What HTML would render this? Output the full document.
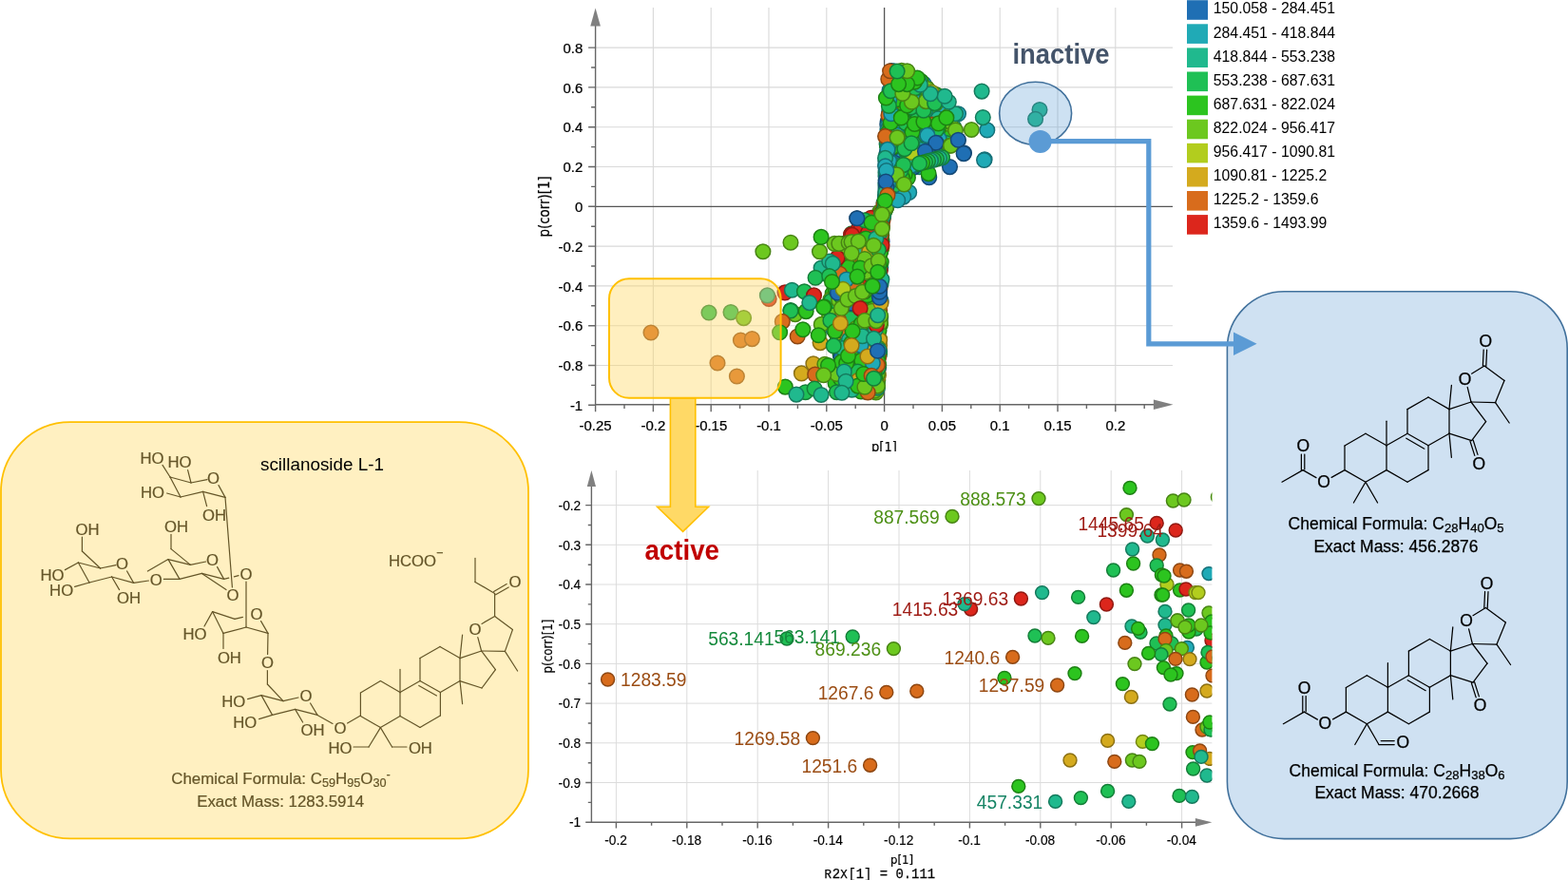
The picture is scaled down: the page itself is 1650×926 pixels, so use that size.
<!DOCTYPE html>
<html lang="en"><head><meta charset="utf-8"><title>S-plot: active and inactive compounds</title>
<style>
html,body{margin:0;padding:0;background:#fff}
body{width:1650px;height:926px;overflow:hidden}
svg{display:block}
text{font-family:"Liberation Sans",sans-serif}
.tk{font-size:15px;fill:#000;stroke:#000;stroke-width:.15px}
.tk2{font-size:15.5px;fill:#000;stroke:#000;stroke-width:.25px}
.ax{font-family:"DejaVu Sans","Liberation Sans",sans-serif;fill:#000}
.axc{font-family:"DejaVu Sans Condensed","DejaVu Sans","Liberation Sans",sans-serif;fill:#000;stroke:#000;stroke-width:.2px}
.lg{font-size:15.8px;fill:#000}
.gr{stroke:#d9d9d9;stroke-width:1.1;fill:none}
.gr2{stroke:#dcdcdc;stroke-width:1;fill:none}
.axl{stroke:#666;stroke-width:1.4;fill:none}
.zl{stroke:#555;stroke-width:1.3;fill:none}
.pl{font-size:20.6px}
circle{stroke-width:1.5}
.kb{fill:#1f6fb4;stroke:#144976}
.tb{fill:#164f81}
.kc{fill:#20aab6;stroke:#157078}
.tc{fill:#177a83}
.kt{fill:#20b98e;stroke:#157a5d}
.tt{fill:#178566}
.kg{fill:#1fc055;stroke:#147e38}
.tg{fill:#168a3d}
.kG{fill:#2cc41f;stroke:#1d8114}
.tG{fill:#1f8d16}
.ky{fill:#6cc81f;stroke:#478414}
.ty{fill:#4d9016}
.kl{fill:#b2cd1e;stroke:#758713}
.tl{fill:#809315}
.ko{fill:#d4aa1e;stroke:#8b7013}
.to{fill:#987a15}
.kO{fill:#d86c1c;stroke:#8e4712}
.tO{fill:#9b4d14}
.kr{fill:#dc261c;stroke:#911912}
.tr{fill:#9e1b14}
.cb line{stroke:#000;stroke-width:1.25;stroke-linecap:round}
.cb text{fill:#000;stroke:#000;stroke-width:.25px}
.cy line{stroke:#645528;stroke-width:1.2;stroke-linecap:round}
.cy text{fill:#645528;stroke:#645528;stroke-width:.2px}
</style></head><body>
<svg width="1650" height="926" viewBox="0 0 1650 926">
<rect width="1650" height="926" fill="#fff"/>
<g id="topplot"><path class="gr" d="M687.4 8V425.8M748.2 8V425.8M809.0 8V425.8M869.8 8V425.8M991.4 8V425.8M1052.2 8V425.8M1113.0 8V425.8M1173.8 8V425.8M626.6 384.5H1234M626.6 342.7H1234M626.6 300.9H1234M626.6 259.1H1234M626.6 175.5H1234M626.6 133.7H1234M626.6 91.9H1234M626.6 50.1H1234"/><path class="zl" d="M930.6 8V425.8M626.6 217.3H1234"/><path class="axl" d="M626.6 26V425.8H1214"/><path fill="#808080" d="M626.6 8.6l5.3 18.8h-10.6z"/><path fill="#808080" d="M1234.5 425.8l-20.6 -5.3v10.6z"/><path class="axl" d="M626.6 426.3h-7.5M626.6 405.4h-4.5M626.6 384.5h-7.5M626.6 363.6h-4.5M626.6 342.7h-7.5M626.6 321.8h-4.5M626.6 300.9h-7.5M626.6 280.0h-4.5M626.6 259.1h-7.5M626.6 238.2h-4.5M626.6 217.3h-7.5M626.6 196.4h-4.5M626.6 175.5h-7.5M626.6 154.6h-4.5M626.6 133.7h-7.5M626.6 112.8h-4.5M626.6 91.9h-7.5M626.6 71.0h-4.5M626.6 50.1h-7.5M626.6 425.8v7.5M657.0 425.8v4.2M687.4 425.8v7.5M717.8 425.8v4.2M748.2 425.8v7.5M778.6 425.8v4.2M809.0 425.8v7.5M839.4 425.8v4.2M869.8 425.8v7.5M900.2 425.8v4.2M930.6 425.8v7.5M961.0 425.8v4.2M991.4 425.8v7.5M1021.8 425.8v4.2M1052.2 425.8v7.5M1082.6 425.8v4.2M1113.0 425.8v7.5M1143.4 425.8v4.2M1173.8 425.8v7.5M1204.2 425.8v4.2"/><text class="tk2" transform="translate(613.2 55.7) scale(0.965 1)" text-anchor="end">0.8</text><text class="tk2" transform="translate(613.2 97.5) scale(0.965 1)" text-anchor="end">0.6</text><text class="tk2" transform="translate(613.2 139.3) scale(0.965 1)" text-anchor="end">0.4</text><text class="tk2" transform="translate(613.2 181.1) scale(0.965 1)" text-anchor="end">0.2</text><text class="tk2" transform="translate(613.2 222.9) scale(0.965 1)" text-anchor="end">0</text><text class="tk2" transform="translate(613.2 264.7) scale(0.965 1)" text-anchor="end">-0.2</text><text class="tk2" transform="translate(613.2 306.5) scale(0.965 1)" text-anchor="end">-0.4</text><text class="tk2" transform="translate(613.2 348.3) scale(0.965 1)" text-anchor="end">-0.6</text><text class="tk2" transform="translate(613.2 390.1) scale(0.965 1)" text-anchor="end">-0.8</text><text class="tk2" transform="translate(613.2 431.9) scale(0.965 1)" text-anchor="end">-1</text><text class="tk2" transform="translate(626.6 452.6) scale(0.965 1)" text-anchor="middle">-0.25</text><text class="tk2" transform="translate(687.4 452.6) scale(0.965 1)" text-anchor="middle">-0.2</text><text class="tk2" transform="translate(748.2 452.6) scale(0.965 1)" text-anchor="middle">-0.15</text><text class="tk2" transform="translate(809.0 452.6) scale(0.965 1)" text-anchor="middle">-0.1</text><text class="tk2" transform="translate(869.8 452.6) scale(0.965 1)" text-anchor="middle">-0.05</text><text class="tk2" transform="translate(930.6 452.6) scale(0.965 1)" text-anchor="middle">0</text><text class="tk2" transform="translate(991.4 452.6) scale(0.965 1)" text-anchor="middle">0.05</text><text class="tk2" transform="translate(1052.2 452.6) scale(0.965 1)" text-anchor="middle">0.1</text><text class="tk2" transform="translate(1113.0 452.6) scale(0.965 1)" text-anchor="middle">0.15</text><text class="tk2" transform="translate(1173.8 452.6) scale(0.965 1)" text-anchor="middle">0.2</text><text class="axc" font-size="15.5" transform="translate(578.3 217.4) rotate(-90) scale(0.96 1)" text-anchor="middle">p(corr)[1]</text><clipPath id="cp1"><rect x="560" y="0" width="700" height="474.9"/></clipPath><text class="axc" font-size="14.5" x="930.4" y="475.2" text-anchor="middle" clip-path="url(#cp1)">p[1]</text><circle class="kc" cx="933.4" cy="183.8" r="7.8"/><circle class="kc" cx="932.1" cy="198.0" r="7.8"/><circle class="kt" cx="931.4" cy="221.0" r="7.8"/><circle class="ky" cx="927.5" cy="260.8" r="7.8"/><circle class="kc" cx="940.9" cy="116.0" r="7.8"/><circle class="kg" cx="917.5" cy="269.6" r="7.8"/><circle class="kt" cx="970.1" cy="89.8" r="7.8"/><circle class="kc" cx="931.2" cy="216.1" r="7.8"/><circle class="kt" cx="960.4" cy="108.9" r="7.8"/><circle class="kc" cx="936.5" cy="200.2" r="7.8"/><circle class="kl" cx="918.1" cy="242.3" r="7.8"/><circle class="kg" cx="946.1" cy="180.5" r="7.8"/><circle class="kc" cx="933.6" cy="196.6" r="7.8"/><circle class="kG" cx="958.4" cy="156.7" r="7.8"/><circle class="kG" cx="923.2" cy="241.8" r="7.8"/><circle class="kc" cx="974.7" cy="171.6" r="7.8"/><circle class="kG" cx="926.1" cy="247.5" r="7.8"/><circle class="kb" cx="956.3" cy="125.5" r="7.8"/><circle class="ky" cx="923.8" cy="400.1" r="7.8"/><circle class="kG" cx="891.8" cy="268.3" r="7.8"/><circle class="kb" cx="935.9" cy="189.3" r="7.8"/><circle class="kc" cx="937.2" cy="97.3" r="7.8"/><circle class="kG" cx="963.5" cy="94.6" r="7.8"/><circle class="kG" cx="903.5" cy="269.9" r="7.8"/><circle class="ky" cx="941.9" cy="170.5" r="7.8"/><circle class="kg" cx="948.9" cy="191.6" r="7.8"/><circle class="kt" cx="936.3" cy="131.0" r="7.8"/><circle class="kg" cx="942.1" cy="117.8" r="7.8"/><circle class="kt" cx="910.8" cy="384.8" r="7.8"/><circle class="kO" cx="925.7" cy="226.3" r="7.8"/><circle class="kG" cx="952.4" cy="120.4" r="7.8"/><circle class="kg" cx="944.0" cy="168.4" r="7.8"/><circle class="kg" cx="915.7" cy="305.4" r="7.8"/><circle class="kt" cx="938.7" cy="125.2" r="7.8"/><circle class="kc" cx="952.1" cy="78.1" r="7.8"/><circle class="kt" cx="932.7" cy="163.1" r="7.8"/><circle class="kG" cx="899.9" cy="397.1" r="7.8"/><circle class="ky" cx="902.0" cy="396.1" r="7.8"/><circle class="ky" cx="975.1" cy="92.3" r="7.8"/><circle class="ky" cx="900.5" cy="396.7" r="7.8"/><circle class="kb" cx="933.3" cy="207.0" r="7.8"/><circle class="kc" cx="936.7" cy="95.1" r="7.8"/><circle class="kc" cx="932.2" cy="189.3" r="7.8"/><circle class="kt" cx="904.3" cy="395.7" r="7.8"/><circle class="kt" cx="905.6" cy="370.4" r="7.8"/><circle class="ky" cx="882.6" cy="289.1" r="7.8"/><circle class="kG" cx="932.5" cy="197.5" r="7.8"/><circle class="kt" cx="923.7" cy="232.0" r="7.8"/><circle class="ky" cx="977.5" cy="122.9" r="7.8"/><circle class="kc" cx="972.7" cy="163.8" r="7.8"/><circle class="kG" cx="925.1" cy="249.0" r="7.8"/><circle class="kb" cx="940.1" cy="196.6" r="7.8"/><circle class="ky" cx="919.0" cy="331.0" r="7.8"/><circle class="kg" cx="901.3" cy="366.7" r="7.8"/><circle class="kG" cx="895.7" cy="249.7" r="7.8"/><circle class="kl" cx="907.0" cy="335.7" r="7.8"/><circle class="ky" cx="913.4" cy="244.4" r="7.8"/><circle class="kO" cx="878.8" cy="349.1" r="7.8"/><circle class="kg" cx="941.1" cy="140.2" r="7.8"/><circle class="kG" cx="921.8" cy="324.8" r="7.8"/><circle class="kb" cx="912.6" cy="241.1" r="7.8"/><circle class="kg" cx="910.9" cy="341.8" r="7.8"/><circle class="kG" cx="876.2" cy="308.8" r="7.8"/><circle class="kG" cx="897.0" cy="348.1" r="7.8"/><circle class="kg" cx="915.8" cy="397.7" r="7.8"/><circle class="kg" cx="953.6" cy="108.6" r="7.8"/><circle class="kG" cx="966.1" cy="143.3" r="7.8"/><circle class="ky" cx="911.9" cy="358.9" r="7.8"/><circle class="kO" cx="941.6" cy="190.6" r="7.8"/><circle class="ko" cx="883.7" cy="297.9" r="7.8"/><circle class="kO" cx="922.7" cy="315.2" r="7.8"/><circle class="kg" cx="981.9" cy="134.5" r="7.8"/><circle class="ky" cx="987.9" cy="103.4" r="7.8"/><circle class="kc" cx="933.0" cy="208.2" r="7.8"/><circle class="kb" cx="936.6" cy="131.6" r="7.8"/><circle class="ko" cx="923.9" cy="347.4" r="7.8"/><circle class="kr" cx="913.6" cy="276.0" r="7.8"/><circle class="kc" cx="938.8" cy="192.8" r="7.8"/><circle class="ky" cx="953.8" cy="81.3" r="7.8"/><circle class="kr" cx="909.3" cy="294.2" r="7.8"/><circle class="kt" cx="1000.8" cy="121.2" r="7.8"/><circle class="kg" cx="922.1" cy="354.1" r="7.8"/><circle class="ky" cx="956.0" cy="146.1" r="7.8"/><circle class="kG" cx="922.3" cy="272.8" r="7.8"/><circle class="ky" cx="925.5" cy="356.8" r="7.8"/><circle class="kG" cx="936.8" cy="193.9" r="7.8"/><circle class="kO" cx="900.8" cy="249.2" r="7.8"/><circle class="kG" cx="917.2" cy="244.1" r="7.8"/><circle class="kl" cx="900.7" cy="247.1" r="7.8"/><circle class="kc" cx="934.0" cy="136.1" r="7.8"/><circle class="ky" cx="917.2" cy="234.5" r="7.8"/><circle class="kG" cx="962.5" cy="94.9" r="7.8"/><circle class="kt" cx="898.1" cy="262.3" r="7.8"/><circle class="kg" cx="925.0" cy="373.4" r="7.8"/><circle class="kG" cx="964.5" cy="167.9" r="7.8"/><circle class="kO" cx="929.6" cy="227.3" r="7.8"/><circle class="ky" cx="913.2" cy="383.3" r="7.8"/><circle class="kg" cx="903.8" cy="404.0" r="7.8"/><circle class="ky" cx="911.7" cy="308.8" r="7.8"/><circle class="kg" cx="909.6" cy="347.7" r="7.8"/><circle class="kr" cx="882.1" cy="311.0" r="7.8"/><circle class="kt" cx="955.1" cy="162.0" r="7.8"/><circle class="kt" cx="924.1" cy="358.8" r="7.8"/><circle class="kc" cx="932.6" cy="207.0" r="7.8"/><circle class="kc" cx="943.5" cy="146.1" r="7.8"/><circle class="ky" cx="923.0" cy="378.1" r="7.8"/><circle class="kg" cx="917.3" cy="292.1" r="7.8"/><circle class="kg" cx="884.2" cy="373.3" r="7.8"/><circle class="kO" cx="925.7" cy="327.1" r="7.8"/><circle class="ko" cx="905.2" cy="239.2" r="7.8"/><circle class="kG" cx="971.5" cy="149.8" r="7.8"/><circle class="kt" cx="932.4" cy="210.9" r="7.8"/><circle class="kg" cx="946.1" cy="80.6" r="7.8"/><circle class="kG" cx="914.9" cy="312.4" r="7.8"/><circle class="kt" cx="911.0" cy="285.5" r="7.8"/><circle class="kt" cx="990.8" cy="112.3" r="7.8"/><circle class="kg" cx="923.1" cy="403.4" r="7.8"/><circle class="kc" cx="975.9" cy="166.2" r="7.8"/><circle class="kg" cx="934.4" cy="165.7" r="7.8"/><circle class="kG" cx="879.2" cy="303.2" r="7.8"/><circle class="kG" cx="994.3" cy="124.6" r="7.8"/><circle class="kg" cx="923.6" cy="241.7" r="7.8"/><circle class="kg" cx="962.1" cy="93.5" r="7.8"/><circle class="kb" cx="919.9" cy="377.5" r="7.8"/><circle class="kt" cx="893.5" cy="289.1" r="7.8"/><circle class="kg" cx="922.9" cy="280.2" r="7.8"/><circle class="kG" cx="913.5" cy="366.5" r="7.8"/><circle class="kr" cx="912.6" cy="411.1" r="7.8"/><circle class="kG" cx="934.5" cy="164.8" r="7.8"/><circle class="kg" cx="882.6" cy="392.0" r="7.8"/><circle class="kt" cx="939.5" cy="91.1" r="7.8"/><circle class="kG" cx="924.8" cy="254.0" r="7.8"/><circle class="kG" cx="926.2" cy="243.5" r="7.8"/><circle class="kc" cx="877.0" cy="346.4" r="7.8"/><circle class="kG" cx="950.2" cy="79.2" r="7.8"/><circle class="kg" cx="908.4" cy="405.6" r="7.8"/><circle class="ko" cx="923.8" cy="390.8" r="7.8"/><circle class="ky" cx="901.8" cy="294.4" r="7.8"/><circle class="kG" cx="915.6" cy="356.9" r="7.8"/><circle class="kc" cx="935.1" cy="178.3" r="7.8"/><circle class="kb" cx="931.9" cy="211.2" r="7.8"/><circle class="kt" cx="947.1" cy="78.8" r="7.8"/><circle class="ky" cx="931.9" cy="220.0" r="7.8"/><circle class="ky" cx="889.5" cy="359.2" r="7.8"/><circle class="ky" cx="904.3" cy="403.1" r="7.8"/><circle class="kc" cx="944.1" cy="173.3" r="7.8"/><circle class="kg" cx="932.5" cy="165.2" r="7.8"/><circle class="kg" cx="906.9" cy="403.7" r="7.8"/><circle class="kt" cx="964.2" cy="85.7" r="7.8"/><circle class="kt" cx="932.0" cy="194.9" r="7.8"/><circle class="kG" cx="925.7" cy="244.4" r="7.8"/><circle class="ko" cx="925.7" cy="337.1" r="7.8"/><circle class="kb" cx="948.9" cy="104.4" r="7.8"/><circle class="kc" cx="932.4" cy="207.6" r="7.8"/><circle class="kO" cx="897.7" cy="296.9" r="7.8"/><circle class="ky" cx="898.1" cy="276.2" r="7.8"/><circle class="ky" cx="921.8" cy="407.8" r="7.8"/><circle class="ko" cx="924.9" cy="283.7" r="7.8"/><circle class="ky" cx="887.6" cy="357.2" r="7.8"/><circle class="kG" cx="929.4" cy="219.5" r="7.8"/><circle class="kG" cx="958.8" cy="121.2" r="7.8"/><circle class="kb" cx="896.0" cy="266.7" r="7.8"/><circle class="kO" cx="906.2" cy="354.2" r="7.8"/><circle class="ky" cx="874.0" cy="315.1" r="7.8"/><circle class="kc" cx="933.3" cy="151.9" r="7.8"/><circle class="kG" cx="915.2" cy="399.3" r="7.8"/><circle class="ky" cx="907.0" cy="263.3" r="7.8"/><circle class="kg" cx="923.8" cy="254.2" r="7.8"/><circle class="ky" cx="948.7" cy="75.1" r="7.8"/><circle class="kt" cx="887.7" cy="390.1" r="7.8"/><circle class="ky" cx="926.3" cy="297.5" r="7.8"/><circle class="kO" cx="914.9" cy="234.6" r="7.8"/><circle class="kt" cx="965.0" cy="164.0" r="7.8"/><circle class="kg" cx="965.7" cy="152.2" r="7.8"/><circle class="kG" cx="922.4" cy="241.4" r="7.8"/><circle class="kc" cx="919.1" cy="382.6" r="7.8"/><circle class="kt" cx="904.3" cy="283.2" r="7.8"/><circle class="ky" cx="919.5" cy="277.3" r="7.8"/><circle class="ky" cx="918.7" cy="326.0" r="7.8"/><circle class="kG" cx="955.8" cy="119.2" r="7.8"/><circle class="ky" cx="960.2" cy="165.1" r="7.8"/><circle class="ky" cx="954.8" cy="147.8" r="7.8"/><circle class="kG" cx="917.2" cy="249.1" r="7.8"/><circle class="ky" cx="872.5" cy="334.1" r="7.8"/><circle class="kG" cx="1001.0" cy="141.5" r="7.8"/><circle class="kO" cx="943.6" cy="79.9" r="7.8"/><circle class="kg" cx="896.2" cy="245.7" r="7.8"/><circle class="kt" cx="939.7" cy="205.1" r="7.8"/><circle class="kt" cx="937.1" cy="99.3" r="7.8"/><circle class="kG" cx="983.5" cy="119.0" r="7.8"/><circle class="kb" cx="933.6" cy="168.8" r="7.8"/><circle class="kG" cx="931.7" cy="207.6" r="7.8"/><circle class="kt" cx="934.5" cy="211.4" r="7.8"/><circle class="kg" cx="946.1" cy="115.0" r="7.8"/><circle class="kt" cx="885.0" cy="328.5" r="7.8"/><circle class="kb" cx="921.7" cy="392.6" r="7.8"/><circle class="kG" cx="919.1" cy="379.6" r="7.8"/><circle class="kG" cx="947.1" cy="96.0" r="7.8"/><circle class="ky" cx="983.6" cy="99.9" r="7.8"/><circle class="kt" cx="932.7" cy="167.3" r="7.8"/><circle class="kg" cx="924.7" cy="289.3" r="7.8"/><circle class="kl" cx="930.0" cy="221.9" r="7.8"/><circle class="kb" cx="942.8" cy="200.6" r="7.8"/><circle class="kr" cx="902.9" cy="349.3" r="7.8"/><circle class="kg" cx="908.7" cy="370.9" r="7.8"/><circle class="ky" cx="926.5" cy="317.9" r="7.8"/><circle class="kc" cx="932.8" cy="213.3" r="7.8"/><circle class="kb" cx="932.4" cy="171.0" r="7.8"/><circle class="kt" cx="930.5" cy="214.6" r="7.8"/><circle class="ky" cx="918.9" cy="405.0" r="7.8"/><circle class="ky" cx="952.7" cy="154.9" r="7.8"/><circle class="kb" cx="931.7" cy="207.7" r="7.8"/><circle class="kG" cx="915.8" cy="260.6" r="7.8"/><circle class="kt" cx="911.4" cy="411.8" r="7.8"/><circle class="kt" cx="923.5" cy="259.7" r="7.8"/><circle class="kc" cx="932.4" cy="189.9" r="7.8"/><circle class="kG" cx="898.0" cy="374.8" r="7.8"/><circle class="kt" cx="937.9" cy="203.8" r="7.8"/><circle class="kt" cx="933.8" cy="201.8" r="7.8"/><circle class="kG" cx="956.9" cy="116.7" r="7.8"/><circle class="kt" cx="886.7" cy="341.9" r="7.8"/><circle class="kg" cx="937.9" cy="165.9" r="7.8"/><circle class="ko" cx="930.9" cy="220.4" r="7.8"/><circle class="kc" cx="925.6" cy="369.9" r="7.8"/><circle class="ko" cx="930.3" cy="218.1" r="7.8"/><circle class="kb" cx="920.5" cy="234.4" r="7.8"/><circle class="kO" cx="983.0" cy="98.8" r="7.8"/><circle class="kG" cx="916.3" cy="252.9" r="7.8"/><circle class="kc" cx="934.7" cy="158.2" r="7.8"/><circle class="ky" cx="898.4" cy="393.2" r="7.8"/><circle class="kt" cx="888.3" cy="361.0" r="7.8"/><circle class="ko" cx="927.8" cy="261.0" r="7.8"/><circle class="kb" cx="961.7" cy="116.6" r="7.8"/><circle class="kt" cx="919.7" cy="292.8" r="7.8"/><circle class="kG" cx="910.1" cy="286.4" r="7.8"/><circle class="kt" cx="925.3" cy="310.8" r="7.8"/><circle class="kt" cx="967.6" cy="175.8" r="7.8"/><circle class="kt" cx="932.3" cy="205.6" r="7.8"/><circle class="kG" cx="917.3" cy="411.8" r="7.8"/><circle class="kG" cx="887.0" cy="292.5" r="7.8"/><circle class="kb" cx="913.1" cy="252.4" r="7.8"/><circle class="kg" cx="898.7" cy="399.6" r="7.8"/><circle class="ky" cx="939.4" cy="92.7" r="7.8"/><circle class="kg" cx="941.0" cy="101.5" r="7.8"/><circle class="kg" cx="933.3" cy="150.9" r="7.8"/><circle class="kb" cx="935.3" cy="196.8" r="7.8"/><circle class="kg" cx="908.2" cy="324.6" r="7.8"/><circle class="kl" cx="925.9" cy="242.0" r="7.8"/><circle class="kg" cx="921.5" cy="352.0" r="7.8"/><circle class="kc" cx="977.4" cy="163.8" r="7.8"/><circle class="kt" cx="910.2" cy="396.7" r="7.8"/><circle class="kr" cx="911.6" cy="377.9" r="7.8"/><circle class="kt" cx="880.2" cy="299.5" r="7.8"/><circle class="kb" cx="924.6" cy="386.5" r="7.8"/><circle class="kc" cx="922.3" cy="404.2" r="7.8"/><circle class="kG" cx="923.2" cy="314.6" r="7.8"/><circle class="ky" cx="889.7" cy="378.5" r="7.8"/><circle class="kc" cx="936.1" cy="112.4" r="7.8"/><circle class="kG" cx="909.3" cy="295.2" r="7.8"/><circle class="kg" cx="953.1" cy="84.8" r="7.8"/><circle class="kG" cx="881.4" cy="358.5" r="7.8"/><circle class="kb" cx="934.0" cy="131.4" r="7.8"/><circle class="kl" cx="923.2" cy="397.9" r="7.8"/><circle class="kO" cx="946.8" cy="144.3" r="7.8"/><circle class="kc" cx="957.1" cy="178.6" r="7.8"/><circle class="kg" cx="949.5" cy="90.7" r="7.8"/><circle class="kG" cx="916.5" cy="257.6" r="7.8"/><circle class="kb" cx="943.8" cy="197.5" r="7.8"/><circle class="ky" cx="921.9" cy="288.1" r="7.8"/><circle class="kc" cx="926.7" cy="333.9" r="7.8"/><circle class="kc" cx="917.7" cy="231.3" r="7.8"/><circle class="kG" cx="969.0" cy="161.1" r="7.8"/><circle class="kt" cx="934.7" cy="188.9" r="7.8"/><circle class="ky" cx="918.7" cy="387.3" r="7.8"/><circle class="ky" cx="878.7" cy="330.2" r="7.8"/><circle class="ko" cx="924.4" cy="394.9" r="7.8"/><circle class="kg" cx="952.6" cy="153.3" r="7.8"/><circle class="kg" cx="914.9" cy="397.4" r="7.8"/><circle class="kt" cx="893.7" cy="383.7" r="7.8"/><circle class="ko" cx="922.1" cy="388.6" r="7.8"/><circle class="ky" cx="918.4" cy="389.6" r="7.8"/><circle class="kG" cx="902.4" cy="336.0" r="7.8"/><circle class="ko" cx="913.2" cy="366.0" r="7.8"/><circle class="kg" cx="925.8" cy="339.2" r="7.8"/><circle class="kc" cx="931.8" cy="206.8" r="7.8"/><circle class="kt" cx="920.2" cy="237.3" r="7.8"/><circle class="kt" cx="886.5" cy="406.3" r="7.8"/><circle class="kb" cx="933.6" cy="163.8" r="7.8"/><circle class="kg" cx="936.8" cy="132.7" r="7.8"/><circle class="kO" cx="894.3" cy="302.5" r="7.8"/><circle class="kl" cx="891.9" cy="336.3" r="7.8"/><circle class="ky" cx="919.6" cy="359.1" r="7.8"/><circle class="kc" cx="938.4" cy="164.7" r="7.8"/><circle class="kt" cx="940.9" cy="137.0" r="7.8"/><circle class="kG" cx="907.3" cy="373.7" r="7.8"/><circle class="kc" cx="941.5" cy="96.0" r="7.8"/><circle class="kG" cx="925.8" cy="294.2" r="7.8"/><circle class="kG" cx="922.1" cy="409.9" r="7.8"/><circle class="kG" cx="921.3" cy="373.3" r="7.8"/><circle class="kg" cx="924.7" cy="384.0" r="7.8"/><circle class="kG" cx="933.5" cy="153.0" r="7.8"/><circle class="kG" cx="887.8" cy="271.7" r="7.8"/><circle class="ky" cx="925.8" cy="247.8" r="7.8"/><circle class="kb" cx="970.4" cy="162.1" r="7.8"/><circle class="kG" cx="962.5" cy="109.9" r="7.8"/><circle class="kc" cx="932.1" cy="192.5" r="7.8"/><circle class="ky" cx="921.8" cy="413.0" r="7.8"/><circle class="kb" cx="923.1" cy="294.9" r="7.8"/><circle class="kG" cx="914.6" cy="351.6" r="7.8"/><circle class="kt" cx="944.9" cy="136.8" r="7.8"/><circle class="kG" cx="946.9" cy="84.7" r="7.8"/><circle class="kg" cx="937.3" cy="95.4" r="7.8"/><circle class="kG" cx="959.6" cy="126.4" r="7.8"/><circle class="kg" cx="973.1" cy="129.5" r="7.8"/><circle class="kG" cx="900.3" cy="409.0" r="7.8"/><circle class="ky" cx="917.8" cy="397.1" r="7.8"/><circle class="kb" cx="914.8" cy="373.6" r="7.8"/><circle class="kG" cx="882.2" cy="367.0" r="7.8"/><circle class="kG" cx="916.2" cy="292.5" r="7.8"/><circle class="kc" cx="933.7" cy="143.0" r="7.8"/><circle class="kg" cx="935.8" cy="211.7" r="7.8"/><circle class="kc" cx="935.6" cy="118.1" r="7.8"/><circle class="ky" cx="924.1" cy="382.4" r="7.8"/><circle class="kt" cx="897.9" cy="388.3" r="7.8"/><circle class="kG" cx="943.7" cy="123.5" r="7.8"/><circle class="kc" cx="934.9" cy="132.2" r="7.8"/><circle class="kb" cx="961.0" cy="176.2" r="7.8"/><circle class="kc" cx="910.0" cy="404.7" r="7.8"/><circle class="kt" cx="905.2" cy="280.0" r="7.8"/><circle class="ko" cx="904.9" cy="380.5" r="7.8"/><circle class="kO" cx="904.1" cy="376.1" r="7.8"/><circle class="kt" cx="948.9" cy="149.3" r="7.8"/><circle class="kg" cx="922.9" cy="355.1" r="7.8"/><circle class="kc" cx="972.0" cy="88.1" r="7.8"/><circle class="kt" cx="931.9" cy="204.0" r="7.8"/><circle class="kO" cx="922.6" cy="350.5" r="7.8"/><circle class="kc" cx="899.5" cy="264.6" r="7.8"/><circle class="kG" cx="918.6" cy="300.4" r="7.8"/><circle class="ky" cx="909.9" cy="277.2" r="7.8"/><circle class="kg" cx="899.9" cy="337.8" r="7.8"/><circle class="ky" cx="916.1" cy="271.5" r="7.8"/><circle class="kb" cx="936.4" cy="198.6" r="7.8"/><circle class="ky" cx="924.4" cy="231.7" r="7.8"/><circle class="kt" cx="911.4" cy="338.4" r="7.8"/><circle class="kt" cx="914.9" cy="348.8" r="7.8"/><circle class="kc" cx="952.1" cy="117.5" r="7.8"/><circle class="ky" cx="909.6" cy="346.0" r="7.8"/><circle class="kc" cx="955.1" cy="87.8" r="7.8"/><circle class="ky" cx="918.1" cy="386.6" r="7.8"/><circle class="kG" cx="927.7" cy="247.4" r="7.8"/><circle class="ko" cx="903.4" cy="377.4" r="7.8"/><circle class="kG" cx="987.4" cy="120.2" r="7.8"/><circle class="kg" cx="886.4" cy="322.2" r="7.8"/><circle class="kt" cx="989.7" cy="118.6" r="7.8"/><circle class="kt" cx="885.4" cy="398.3" r="7.8"/><circle class="kg" cx="895.2" cy="306.6" r="7.8"/><circle class="ky" cx="945.4" cy="96.2" r="7.8"/><circle class="kG" cx="942.8" cy="159.5" r="7.8"/><circle class="kc" cx="968.1" cy="167.2" r="7.8"/><circle class="kG" cx="988.5" cy="160.2" r="7.8"/><circle class="kG" cx="941.6" cy="144.6" r="7.8"/><circle class="kt" cx="946.0" cy="154.5" r="7.8"/><circle class="kt" cx="937.8" cy="135.7" r="7.8"/><circle class="ko" cx="922.7" cy="377.5" r="7.8"/><circle class="kb" cx="968.3" cy="163.6" r="7.8"/><circle class="kO" cx="917.7" cy="289.7" r="7.8"/><circle class="ky" cx="925.3" cy="227.6" r="7.8"/><circle class="ky" cx="924.3" cy="373.2" r="7.8"/><circle class="ko" cx="916.3" cy="287.5" r="7.8"/><circle class="kt" cx="934.5" cy="199.9" r="7.8"/><circle class="kc" cx="932.5" cy="186.2" r="7.8"/><circle class="kt" cx="946.1" cy="174.5" r="7.8"/><circle class="ky" cx="880.0" cy="290.7" r="7.8"/><circle class="ky" cx="888.0" cy="388.7" r="7.8"/><circle class="kb" cx="938.0" cy="74.6" r="7.8"/><circle class="kc" cx="930.6" cy="215.6" r="7.8"/><circle class="kc" cx="926.7" cy="281.6" r="7.8"/><circle class="kc" cx="940.8" cy="74.9" r="7.8"/><circle class="kb" cx="930.8" cy="214.1" r="7.8"/><circle class="kc" cx="934.3" cy="127.8" r="7.8"/><circle class="kt" cx="929.5" cy="226.8" r="7.8"/><circle class="kG" cx="896.2" cy="369.4" r="7.8"/><circle class="kc" cx="880.2" cy="349.1" r="7.8"/><circle class="kG" cx="907.6" cy="292.6" r="7.8"/><circle class="ky" cx="908.6" cy="275.6" r="7.8"/><circle class="kg" cx="897.9" cy="391.7" r="7.8"/><circle class="kb" cx="934.0" cy="130.0" r="7.8"/><circle class="kc" cx="937.7" cy="136.9" r="7.8"/><circle class="kG" cx="939.9" cy="122.2" r="7.8"/><circle class="ky" cx="915.0" cy="293.5" r="7.8"/><circle class="kt" cx="944.7" cy="133.2" r="7.8"/><circle class="ky" cx="880.6" cy="286.2" r="7.8"/><circle class="kb" cx="895.7" cy="339.4" r="7.8"/><circle class="kb" cx="934.9" cy="201.2" r="7.8"/><circle class="kt" cx="1003.6" cy="133.5" r="7.8"/><circle class="kg" cx="933.4" cy="152.7" r="7.8"/><circle class="kg" cx="884.9" cy="387.6" r="7.8"/><circle class="ky" cx="920.2" cy="315.3" r="7.8"/><circle class="kr" cx="898.2" cy="304.3" r="7.8"/><circle class="ky" cx="923.4" cy="251.4" r="7.8"/><circle class="kt" cx="888.1" cy="388.8" r="7.8"/><circle class="kg" cx="925.5" cy="372.3" r="7.8"/><circle class="kg" cx="892.3" cy="380.7" r="7.8"/><circle class="kG" cx="896.9" cy="394.3" r="7.8"/><circle class="kG" cx="949.4" cy="139.1" r="7.8"/><circle class="kG" cx="986.9" cy="155.1" r="7.8"/><circle class="ko" cx="882.4" cy="386.4" r="7.8"/><circle class="ko" cx="910.5" cy="405.9" r="7.8"/><circle class="kb" cx="928.0" cy="253.9" r="7.8"/><circle class="ky" cx="926.8" cy="222.2" r="7.8"/><circle class="kG" cx="895.7" cy="373.9" r="7.8"/><circle class="kr" cx="926.2" cy="285.1" r="7.8"/><circle class="kc" cx="934.3" cy="132.2" r="7.8"/><circle class="kc" cx="932.8" cy="190.9" r="7.8"/><circle class="ky" cx="900.7" cy="308.8" r="7.8"/><circle class="kG" cx="936.4" cy="97.0" r="7.8"/><circle class="kG" cx="998.4" cy="141.6" r="7.8"/><circle class="kO" cx="924.7" cy="376.1" r="7.8"/><circle class="kG" cx="894.8" cy="330.2" r="7.8"/><circle class="kc" cx="940.0" cy="110.3" r="7.8"/><circle class="kg" cx="903.5" cy="353.7" r="7.8"/><circle class="ko" cx="927.7" cy="235.7" r="7.8"/><circle class="kG" cx="922.6" cy="330.7" r="7.8"/><circle class="kt" cx="934.6" cy="188.1" r="7.8"/><circle class="kg" cx="964.6" cy="90.4" r="7.8"/><circle class="kG" cx="902.6" cy="334.8" r="7.8"/><circle class="kb" cx="905.3" cy="362.6" r="7.8"/><circle class="kG" cx="926.4" cy="341.5" r="7.8"/><circle class="ky" cx="916.9" cy="336.1" r="7.8"/><circle class="ky" cx="953.8" cy="90.3" r="7.8"/><circle class="ko" cx="925.0" cy="366.3" r="7.8"/><circle class="kG" cx="943.8" cy="171.3" r="7.8"/><circle class="kb" cx="978.6" cy="142.5" r="7.8"/><circle class="kG" cx="942.9" cy="75.5" r="7.8"/><circle class="ky" cx="881.5" cy="353.8" r="7.8"/><circle class="kt" cx="945.9" cy="191.7" r="7.8"/><circle class="ko" cx="925.2" cy="269.9" r="7.8"/><circle class="kG" cx="971.7" cy="146.8" r="7.8"/><circle class="ky" cx="997.3" cy="130.2" r="7.8"/><circle class="ky" cx="973.6" cy="101.4" r="7.8"/><circle class="kG" cx="926.7" cy="264.3" r="7.8"/><circle class="kg" cx="935.8" cy="194.6" r="7.8"/><circle class="ky" cx="913.0" cy="326.6" r="7.8"/><circle class="kc" cx="939.0" cy="82.5" r="7.8"/><circle class="kt" cx="940.5" cy="202.6" r="7.8"/><circle class="ky" cx="923.4" cy="394.0" r="7.8"/><circle class="ky" cx="891.7" cy="329.8" r="7.8"/><circle class="kG" cx="950.5" cy="85.5" r="7.8"/><circle class="ky" cx="986.8" cy="126.7" r="7.8"/><circle class="kG" cx="920.8" cy="261.7" r="7.8"/><circle class="ky" cx="925.9" cy="222.8" r="7.8"/><circle class="kG" cx="944.3" cy="152.3" r="7.8"/><circle class="kg" cx="921.0" cy="374.1" r="7.8"/><circle class="kO" cx="966.3" cy="164.7" r="7.8"/><circle class="kt" cx="923.7" cy="360.0" r="7.8"/><circle class="ky" cx="897.0" cy="404.4" r="7.8"/><circle class="kG" cx="925.9" cy="251.0" r="7.8"/><circle class="ky" cx="919.6" cy="398.0" r="7.8"/><circle class="ky" cx="920.4" cy="411.3" r="7.8"/><circle class="kc" cx="948.5" cy="108.5" r="7.8"/><circle class="kG" cx="895.4" cy="343.5" r="7.8"/><circle class="kb" cx="933.8" cy="166.8" r="7.8"/><circle class="kO" cx="929.1" cy="231.3" r="7.8"/><circle class="kG" cx="897.8" cy="342.2" r="7.8"/><circle class="kb" cx="917.6" cy="406.5" r="7.8"/><circle class="kg" cx="965.0" cy="122.1" r="7.8"/><circle class="kg" cx="939.5" cy="75.9" r="7.8"/><circle class="kO" cx="905.1" cy="273.1" r="7.8"/><circle class="ky" cx="972.1" cy="151.5" r="7.8"/><circle class="kg" cx="906.5" cy="291.5" r="7.8"/><circle class="kG" cx="901.1" cy="304.4" r="7.8"/><circle class="ky" cx="931.0" cy="220.6" r="7.8"/><circle class="kl" cx="950.3" cy="107.2" r="7.8"/><circle class="kb" cx="935.2" cy="209.6" r="7.8"/><circle class="kO" cx="928.3" cy="237.7" r="7.8"/><circle class="kc" cx="933.5" cy="212.8" r="7.8"/><circle class="kc" cx="932.0" cy="185.2" r="7.8"/><circle class="kc" cx="950.2" cy="86.9" r="7.8"/><circle class="kg" cx="874.5" cy="316.8" r="7.8"/><circle class="ky" cx="927.0" cy="250.0" r="7.8"/><circle class="kG" cx="928.3" cy="228.9" r="7.8"/><circle class="ko" cx="911.0" cy="247.6" r="7.8"/><circle class="ky" cx="934.3" cy="199.4" r="7.8"/><circle class="kg" cx="970.8" cy="145.2" r="7.8"/><circle class="ky" cx="896.3" cy="248.2" r="7.8"/><circle class="kc" cx="915.2" cy="407.7" r="7.8"/><circle class="kb" cx="945.7" cy="159.6" r="7.8"/><circle class="kg" cx="942.5" cy="78.5" r="7.8"/><circle class="kt" cx="905.2" cy="302.8" r="7.8"/><circle class="kG" cx="974.5" cy="150.1" r="7.8"/><circle class="kG" cx="879.1" cy="403.3" r="7.8"/><circle class="kr" cx="928.3" cy="230.7" r="7.8"/><circle class="ky" cx="888.4" cy="337.3" r="7.8"/><circle class="ky" cx="968.5" cy="139.5" r="7.8"/><circle class="kg" cx="995.7" cy="150.6" r="7.8"/><circle class="ko" cx="889.1" cy="299.8" r="7.8"/><circle class="kg" cx="911.8" cy="350.7" r="7.8"/><circle class="kl" cx="899.2" cy="331.6" r="7.8"/><circle class="kO" cx="917.2" cy="356.6" r="7.8"/><circle class="ky" cx="970.3" cy="152.1" r="7.8"/><circle class="kc" cx="948.1" cy="160.0" r="7.8"/><circle class="ko" cx="913.1" cy="237.3" r="7.8"/><circle class="kb" cx="937.0" cy="169.3" r="7.8"/><circle class="ky" cx="930.0" cy="219.3" r="7.8"/><circle class="kg" cx="923.0" cy="378.1" r="7.8"/><circle class="ko" cx="925.5" cy="363.7" r="7.8"/><circle class="kt" cx="920.5" cy="265.4" r="7.8"/><circle class="ky" cx="920.7" cy="253.9" r="7.8"/><circle class="kc" cx="937.4" cy="79.1" r="7.8"/><circle class="kc" cx="934.5" cy="158.8" r="7.8"/><circle class="kl" cx="953.6" cy="136.9" r="7.8"/><circle class="kl" cx="992.9" cy="125.8" r="7.8"/><circle class="ky" cx="909.6" cy="255.2" r="7.8"/><circle class="ky" cx="896.6" cy="280.2" r="7.8"/><circle class="ky" cx="908.6" cy="379.7" r="7.8"/><circle class="ky" cx="922.6" cy="358.4" r="7.8"/><circle class="kc" cx="934.5" cy="146.2" r="7.8"/><circle class="kg" cx="922.7" cy="262.2" r="7.8"/><circle class="ky" cx="911.9" cy="354.4" r="7.8"/><circle class="kc" cx="950.1" cy="93.8" r="7.8"/><circle class="kt" cx="921.1" cy="311.4" r="7.8"/><circle class="kb" cx="895.3" cy="256.9" r="7.8"/><circle class="ky" cx="945.4" cy="128.4" r="7.8"/><circle class="ko" cx="904.8" cy="264.7" r="7.8"/><circle class="ky" cx="924.7" cy="231.9" r="7.8"/><circle class="kG" cx="962.0" cy="99.6" r="7.8"/><circle class="kc" cx="926.9" cy="293.2" r="7.8"/><circle class="kG" cx="879.5" cy="305.4" r="7.8"/><circle class="kG" cx="925.0" cy="348.1" r="7.8"/><circle class="kc" cx="909.3" cy="238.3" r="7.8"/><circle class="kc" cx="950.1" cy="146.3" r="7.8"/><circle class="kg" cx="949.1" cy="188.8" r="7.8"/><circle class="kG" cx="945.7" cy="189.7" r="7.8"/><circle class="kG" cx="922.4" cy="335.2" r="7.8"/><circle class="kb" cx="934.2" cy="189.9" r="7.8"/><circle class="kg" cx="963.1" cy="173.3" r="7.8"/><circle class="kG" cx="955.4" cy="187.1" r="7.8"/><circle class="kG" cx="933.5" cy="190.9" r="7.8"/><circle class="kc" cx="936.0" cy="186.2" r="7.8"/><circle class="ky" cx="926.4" cy="339.8" r="7.8"/><circle class="ky" cx="917.6" cy="261.9" r="7.8"/><circle class="kb" cx="942.5" cy="90.8" r="7.8"/><circle class="kG" cx="967.7" cy="89.7" r="7.8"/><circle class="ko" cx="903.9" cy="280.3" r="7.8"/><circle class="kG" cx="916.9" cy="243.8" r="7.8"/><circle class="ky" cx="905.3" cy="283.1" r="7.8"/><circle class="kt" cx="883.2" cy="307.6" r="7.8"/><circle class="kg" cx="969.1" cy="146.0" r="7.8"/><circle class="ky" cx="924.2" cy="286.0" r="7.8"/><circle class="kc" cx="934.4" cy="135.5" r="7.8"/><circle class="kl" cx="941.3" cy="199.0" r="7.8"/><circle class="kt" cx="952.4" cy="178.9" r="7.8"/><circle class="kc" cx="934.3" cy="136.6" r="7.8"/><circle class="ko" cx="918.2" cy="242.7" r="7.8"/><circle class="kG" cx="981.2" cy="114.3" r="7.8"/><circle class="kt" cx="914.1" cy="309.8" r="7.8"/><circle class="kG" cx="941.9" cy="78.8" r="7.8"/><circle class="kl" cx="924.4" cy="297.5" r="7.8"/><circle class="kc" cx="930.2" cy="213.8" r="7.8"/><circle class="kb" cx="915.0" cy="286.5" r="7.8"/><circle class="kO" cx="925.2" cy="305.8" r="7.8"/><circle class="kc" cx="981.6" cy="103.9" r="7.8"/><circle class="ky" cx="926.3" cy="234.1" r="7.8"/><circle class="kc" cx="970.8" cy="156.1" r="7.8"/><circle class="ky" cx="916.2" cy="386.8" r="7.8"/><circle class="ky" cx="882.7" cy="315.9" r="7.8"/><circle class="ky" cx="919.2" cy="331.4" r="7.8"/><circle class="kr" cx="910.6" cy="314.4" r="7.8"/><circle class="kc" cx="887.8" cy="375.7" r="7.8"/><circle class="kb" cx="927.0" cy="317.1" r="7.8"/><circle class="ky" cx="901.6" cy="373.4" r="7.8"/><circle class="ky" cx="944.4" cy="101.0" r="7.8"/><circle class="ko" cx="885.3" cy="277.4" r="7.8"/><circle class="kG" cx="927.9" cy="238.9" r="7.8"/><circle class="kG" cx="897.9" cy="395.6" r="7.8"/><circle class="ko" cx="924.6" cy="303.5" r="7.8"/><circle class="kc" cx="994.7" cy="113.6" r="7.8"/><circle class="kG" cx="915.3" cy="287.5" r="7.8"/><circle class="kg" cx="911.7" cy="337.8" r="7.8"/><circle class="kg" cx="905.4" cy="340.0" r="7.8"/><circle class="kG" cx="954.3" cy="168.9" r="7.8"/><circle class="kG" cx="885.7" cy="312.4" r="7.8"/><circle class="kb" cx="899.6" cy="368.8" r="7.8"/><circle class="kg" cx="905.4" cy="355.8" r="7.8"/><circle class="kg" cx="884.5" cy="272.2" r="7.8"/><circle class="kG" cx="937.9" cy="201.7" r="7.8"/><circle class="kG" cx="921.6" cy="335.5" r="7.8"/><circle class="kc" cx="932.0" cy="170.0" r="7.8"/><circle class="kO" cx="895.2" cy="272.9" r="7.8"/><circle class="kt" cx="919.5" cy="339.5" r="7.8"/><circle class="ky" cx="887.5" cy="349.2" r="7.8"/><circle class="kl" cx="1000.1" cy="123.8" r="7.8"/><circle class="kr" cx="899.4" cy="347.6" r="7.8"/><circle class="ky" cx="917.4" cy="243.5" r="7.8"/><circle class="kg" cx="897.5" cy="261.7" r="7.8"/><circle class="kg" cx="895.6" cy="341.0" r="7.8"/><circle class="kc" cx="932.4" cy="178.9" r="7.8"/><circle class="kb" cx="906.2" cy="387.9" r="7.8"/><circle class="kt" cx="911.6" cy="342.4" r="7.8"/><circle class="kt" cx="920.2" cy="255.8" r="7.8"/><circle class="kt" cx="960.0" cy="152.9" r="7.8"/><circle class="kG" cx="910.1" cy="374.0" r="7.8"/><circle class="kg" cx="925.5" cy="245.6" r="7.8"/><circle class="kt" cx="938.5" cy="139.2" r="7.8"/><circle class="kb" cx="933.3" cy="210.4" r="7.8"/><circle class="kc" cx="932.2" cy="200.8" r="7.8"/><circle class="kg" cx="964.6" cy="126.9" r="7.8"/><circle class="kc" cx="953.3" cy="169.1" r="7.8"/><circle class="kG" cx="969.1" cy="85.4" r="7.8"/><circle class="kg" cx="918.9" cy="238.9" r="7.8"/><circle class="kt" cx="919.3" cy="387.7" r="7.8"/><circle class="ko" cx="895.6" cy="394.9" r="7.8"/><circle class="ko" cx="925.3" cy="280.4" r="7.8"/><circle class="kc" cx="939.2" cy="86.8" r="7.8"/><circle class="ky" cx="953.8" cy="91.3" r="7.8"/><circle class="kr" cx="916.5" cy="229.4" r="7.8"/><circle class="ky" cx="891.1" cy="377.3" r="7.8"/><circle class="kc" cx="931.4" cy="208.7" r="7.8"/><circle class="ky" cx="882.0" cy="291.2" r="7.8"/><circle class="kO" cx="925.9" cy="245.7" r="7.8"/><circle class="ky" cx="999.9" cy="128.1" r="7.8"/><circle class="kt" cx="933.5" cy="149.2" r="7.8"/><circle class="kb" cx="954.6" cy="94.1" r="7.8"/><circle class="ko" cx="925.7" cy="357.8" r="7.8"/><circle class="kl" cx="906.3" cy="248.0" r="7.8"/><circle class="kt" cx="923.5" cy="408.1" r="7.8"/><circle class="kt" cx="932.0" cy="181.7" r="7.8"/><circle class="ky" cx="949.1" cy="175.3" r="7.8"/><circle class="kG" cx="912.2" cy="295.2" r="7.8"/><circle class="kb" cx="934.9" cy="161.1" r="7.8"/><circle class="ky" cx="935.8" cy="154.8" r="7.8"/><circle class="ko" cx="913.8" cy="232.6" r="7.8"/><circle class="kt" cx="967.5" cy="86.2" r="7.8"/><circle class="kg" cx="961.2" cy="100.4" r="7.8"/><circle class="kG" cx="923.5" cy="375.3" r="7.8"/><circle class="kG" cx="884.7" cy="398.7" r="7.8"/><circle class="kG" cx="904.4" cy="359.5" r="7.8"/><circle class="kg" cx="916.9" cy="403.6" r="7.8"/><circle class="kt" cx="918.8" cy="235.9" r="7.8"/><circle class="kc" cx="947.2" cy="186.5" r="7.8"/><circle class="kt" cx="904.9" cy="316.0" r="7.8"/><circle class="kG" cx="930.3" cy="222.8" r="7.8"/><circle class="kt" cx="930.4" cy="213.6" r="7.8"/><circle class="kb" cx="933.4" cy="187.4" r="7.8"/><circle class="kG" cx="923.7" cy="380.2" r="7.8"/><circle class="ky" cx="975.6" cy="93.3" r="7.8"/><circle class="ko" cx="907.6" cy="387.7" r="7.8"/><circle class="kt" cx="937.1" cy="171.0" r="7.8"/><circle class="kg" cx="931.1" cy="220.5" r="7.8"/><circle class="kg" cx="923.9" cy="387.6" r="7.8"/><circle class="kO" cx="930.1" cy="214.9" r="7.8"/><circle class="kb" cx="972.4" cy="173.5" r="7.8"/><circle class="kG" cx="927.4" cy="223.9" r="7.8"/><circle class="kO" cx="934.9" cy="121.5" r="7.8"/><circle class="kb" cx="940.7" cy="171.1" r="7.8"/><circle class="ky" cx="921.2" cy="383.2" r="7.8"/><circle class="kG" cx="987.3" cy="135.3" r="7.8"/><circle class="kg" cx="895.1" cy="335.2" r="7.8"/><circle class="kO" cx="893.9" cy="277.6" r="7.8"/><circle class="kg" cx="912.3" cy="280.3" r="7.8"/><circle class="ky" cx="936.9" cy="133.4" r="7.8"/><circle class="kg" cx="905.6" cy="349.1" r="7.8"/><circle class="kG" cx="947.9" cy="77.4" r="7.8"/><circle class="kt" cx="934.0" cy="212.4" r="7.8"/><circle class="kG" cx="949.7" cy="187.6" r="7.8"/><circle class="ky" cx="949.5" cy="104.6" r="7.8"/><circle class="kg" cx="912.4" cy="235.6" r="7.8"/><circle class="kg" cx="957.1" cy="158.2" r="7.8"/><circle class="kG" cx="956.6" cy="86.4" r="7.8"/><circle class="kG" cx="927.2" cy="275.7" r="7.8"/><circle class="kt" cx="882.9" cy="390.0" r="7.8"/><circle class="kO" cx="973.0" cy="114.9" r="7.8"/><circle class="kl" cx="885.8" cy="355.4" r="7.8"/><circle class="kl" cx="914.8" cy="315.1" r="7.8"/><circle class="kt" cx="919.1" cy="378.4" r="7.8"/><circle class="kG" cx="910.2" cy="397.4" r="7.8"/><circle class="kc" cx="955.7" cy="82.7" r="7.8"/><circle class="kt" cx="959.5" cy="81.0" r="7.8"/><circle class="kg" cx="924.3" cy="283.9" r="7.8"/><circle class="kb" cx="976.3" cy="158.9" r="7.8"/><circle class="ky" cx="957.6" cy="80.6" r="7.8"/><circle class="kG" cx="934.1" cy="140.1" r="7.8"/><circle class="kG" cx="927.5" cy="231.3" r="7.8"/><circle class="ky" cx="984.7" cy="108.9" r="7.8"/><circle class="kg" cx="942.8" cy="134.7" r="7.8"/><circle class="kg" cx="919.4" cy="241.3" r="7.8"/><circle class="kc" cx="937.2" cy="111.3" r="7.8"/><circle class="ky" cx="923.9" cy="365.9" r="7.8"/><circle class="ko" cx="925.6" cy="230.6" r="7.8"/><circle class="ky" cx="948.2" cy="80.3" r="7.8"/><circle class="kc" cx="932.8" cy="216.5" r="7.8"/><circle class="kg" cx="917.3" cy="337.4" r="7.8"/><circle class="ko" cx="899.2" cy="358.3" r="7.8"/><circle class="kr" cx="891.7" cy="406.6" r="7.8"/><circle class="kG" cx="939.0" cy="182.7" r="7.8"/><circle class="ky" cx="952.1" cy="92.2" r="7.8"/><circle class="kG" cx="920.2" cy="390.7" r="7.8"/><circle class="kt" cx="927.0" cy="298.8" r="7.8"/><circle class="kG" cx="927.4" cy="253.9" r="7.8"/><circle class="kt" cx="970.3" cy="142.1" r="7.8"/><circle class="ky" cx="999.0" cy="121.3" r="7.8"/><circle class="kc" cx="911.2" cy="412.2" r="7.8"/><circle class="kO" cx="886.0" cy="348.3" r="7.8"/><circle class="kG" cx="966.8" cy="87.7" r="7.8"/><circle class="kt" cx="961.4" cy="164.1" r="7.8"/><circle class="kc" cx="893.6" cy="287.0" r="7.8"/><circle class="kG" cx="921.9" cy="284.6" r="7.8"/><circle class="kt" cx="939.5" cy="78.6" r="7.8"/><circle class="kt" cx="933.1" cy="191.8" r="7.8"/><circle class="kc" cx="960.0" cy="102.6" r="7.8"/><circle class="kO" cx="927.9" cy="223.2" r="7.8"/><circle class="kt" cx="941.9" cy="173.5" r="7.8"/><circle class="ky" cx="962.9" cy="166.9" r="7.8"/><circle class="ky" cx="895.8" cy="259.2" r="7.8"/><circle class="kG" cx="922.1" cy="309.5" r="7.8"/><circle class="kg" cx="973.9" cy="142.2" r="7.8"/><circle class="kG" cx="918.8" cy="376.3" r="7.8"/><circle class="kg" cx="926.1" cy="233.0" r="7.8"/><circle class="kb" cx="933.7" cy="187.1" r="7.8"/><circle class="kt" cx="941.2" cy="78.0" r="7.8"/><circle class="kg" cx="924.7" cy="240.6" r="7.8"/><circle class="kc" cx="959.1" cy="174.2" r="7.8"/><circle class="kG" cx="908.5" cy="260.8" r="7.8"/><circle class="kG" cx="930.3" cy="223.2" r="7.8"/><circle class="kl" cx="917.2" cy="356.8" r="7.8"/><circle class="ky" cx="940.8" cy="111.0" r="7.8"/><circle class="kg" cx="946.5" cy="126.4" r="7.8"/><circle class="kG" cx="940.1" cy="121.6" r="7.8"/><circle class="ky" cx="909.5" cy="352.4" r="7.8"/><circle class="kG" cx="887.2" cy="364.3" r="7.8"/><circle class="kG" cx="957.5" cy="165.1" r="7.8"/><circle class="kO" cx="923.4" cy="384.1" r="7.8"/><circle class="kG" cx="950.0" cy="109.0" r="7.8"/><circle class="ky" cx="912.8" cy="272.6" r="7.8"/><circle class="kt" cx="987.3" cy="124.7" r="7.8"/><circle class="kG" cx="906.0" cy="369.9" r="7.8"/><circle class="kg" cx="901.2" cy="362.7" r="7.8"/><circle class="kG" cx="919.1" cy="319.1" r="7.8"/><circle class="ky" cx="910.9" cy="252.4" r="7.8"/><circle class="kG" cx="952.2" cy="183.2" r="7.8"/><circle class="kc" cx="933.2" cy="203.0" r="7.8"/><circle class="kg" cx="929.8" cy="221.7" r="7.8"/><circle class="kg" cx="985.9" cy="103.8" r="7.8"/><circle class="kg" cx="903.9" cy="402.5" r="7.8"/><circle class="kG" cx="921.1" cy="399.0" r="7.8"/><circle class="kb" cx="885.0" cy="376.1" r="7.8"/><circle class="kG" cx="953.7" cy="90.1" r="7.8"/><circle class="kt" cx="946.5" cy="175.6" r="7.8"/><circle class="kG" cx="886.8" cy="256.6" r="7.8"/><circle class="kG" cx="897.8" cy="353.9" r="7.8"/><circle class="kG" cx="933.1" cy="206.0" r="7.8"/><circle class="kt" cx="929.5" cy="227.6" r="7.8"/><circle class="kG" cx="927.0" cy="252.1" r="7.8"/><circle class="kr" cx="913.3" cy="243.8" r="7.8"/><circle class="kG" cx="891.5" cy="268.6" r="7.8"/><circle class="ky" cx="921.9" cy="239.0" r="7.8"/><circle class="ky" cx="906.7" cy="378.8" r="7.8"/><circle class="kt" cx="899.2" cy="253.7" r="7.8"/><circle class="kc" cx="934.9" cy="197.0" r="7.8"/><circle class="kO" cx="927.0" cy="247.8" r="7.8"/><circle class="kG" cx="939.5" cy="174.0" r="7.8"/><circle class="kt" cx="914.5" cy="375.1" r="7.8"/><circle class="kg" cx="899.9" cy="251.7" r="7.8"/><circle class="kt" cx="925.8" cy="245.2" r="7.8"/><circle class="kc" cx="955.4" cy="94.4" r="7.8"/><circle class="kG" cx="948.8" cy="193.7" r="7.8"/><circle class="kb" cx="895.6" cy="319.1" r="7.8"/><circle class="ky" cx="918.7" cy="341.0" r="7.8"/><circle class="kG" cx="889.9" cy="261.4" r="7.8"/><circle class="ky" cx="906.7" cy="359.5" r="7.8"/><circle class="kt" cx="938.6" cy="84.0" r="7.8"/><circle class="kG" cx="889.1" cy="369.3" r="7.8"/><circle class="kG" cx="906.1" cy="412.0" r="7.8"/><circle class="kG" cx="925.1" cy="278.0" r="7.8"/><circle class="kt" cx="925.5" cy="331.5" r="7.8"/><circle class="kG" cx="985.4" cy="99.8" r="7.8"/><circle class="ko" cx="904.4" cy="353.0" r="7.8"/><circle class="ky" cx="901.1" cy="345.3" r="7.8"/><circle class="ky" cx="918.0" cy="335.2" r="7.8"/><circle class="kb" cx="941.0" cy="154.8" r="7.8"/><circle class="kc" cx="933.9" cy="164.4" r="7.8"/><circle class="kc" cx="927.3" cy="226.5" r="7.8"/><circle class="ky" cx="948.5" cy="148.6" r="7.8"/><circle class="ky" cx="912.5" cy="399.3" r="7.8"/><circle class="kc" cx="938.7" cy="154.8" r="7.8"/><circle class="kO" cx="919.0" cy="363.7" r="7.8"/><circle class="kG" cx="913.4" cy="367.9" r="7.8"/><circle class="kG" cx="885.0" cy="278.3" r="7.8"/><circle class="ky" cx="923.5" cy="406.1" r="7.8"/><circle class="kb" cx="936.6" cy="206.1" r="7.8"/><circle class="ko" cx="911.9" cy="370.7" r="7.8"/><circle class="kt" cx="924.9" cy="368.3" r="7.8"/><circle class="kt" cx="933.1" cy="195.5" r="7.8"/><circle class="kg" cx="958.5" cy="112.9" r="7.8"/><circle class="kc" cx="943.6" cy="187.9" r="7.8"/><circle class="kc" cx="932.9" cy="217.2" r="7.8"/><circle class="kG" cx="925.8" cy="232.3" r="7.8"/><circle class="kg" cx="954.2" cy="85.8" r="7.8"/><circle class="kt" cx="921.1" cy="346.9" r="7.8"/><circle class="kO" cx="942.7" cy="105.4" r="7.8"/><circle class="kG" cx="906.2" cy="340.9" r="7.8"/><circle class="kt" cx="893.5" cy="357.5" r="7.8"/><circle class="kc" cx="933.1" cy="198.7" r="7.8"/><circle class="kt" cx="944.3" cy="174.8" r="7.8"/><circle class="kc" cx="951.6" cy="151.0" r="7.8"/><circle class="ky" cx="880.4" cy="393.4" r="7.8"/><circle class="kG" cx="906.7" cy="379.0" r="7.8"/><circle class="kG" cx="918.5" cy="255.3" r="7.8"/><circle class="kc" cx="988.2" cy="146.1" r="7.8"/><circle class="kO" cx="925.9" cy="303.8" r="7.8"/><circle class="kg" cx="966.5" cy="165.7" r="7.8"/><circle class="kc" cx="953.9" cy="83.7" r="7.8"/><circle class="kc" cx="939.7" cy="179.4" r="7.8"/><circle class="kg" cx="890.5" cy="309.5" r="7.8"/><circle class="kc" cx="947.6" cy="182.8" r="7.8"/><circle class="kl" cx="980.2" cy="97.1" r="7.8"/><circle class="kt" cx="923.8" cy="243.6" r="7.8"/><circle class="kg" cx="925.8" cy="317.6" r="7.8"/><circle class="kt" cx="973.6" cy="116.8" r="7.8"/><circle class="kg" cx="944.4" cy="194.6" r="7.8"/><circle class="kO" cx="882.5" cy="336.7" r="7.8"/><circle class="kt" cx="886.4" cy="366.6" r="7.8"/><circle class="ky" cx="952.8" cy="84.0" r="7.8"/><circle class="kb" cx="881.4" cy="308.2" r="7.8"/><circle class="kg" cx="898.7" cy="297.4" r="7.8"/><circle class="kO" cx="913.2" cy="413.0" r="7.8"/><circle class="kt" cx="923.9" cy="287.2" r="7.8"/><circle class="kt" cx="955.7" cy="165.8" r="7.8"/><circle class="kc" cx="926.7" cy="315.6" r="7.8"/><circle class="kl" cx="915.3" cy="280.3" r="7.8"/><circle class="kb" cx="940.1" cy="176.7" r="7.8"/><circle class="kt" cx="907.2" cy="261.2" r="7.8"/><circle class="kG" cx="923.7" cy="265.4" r="7.8"/><circle class="kG" cx="920.6" cy="316.9" r="7.8"/><circle class="kr" cx="905.8" cy="301.2" r="7.8"/><circle class="ky" cx="948.8" cy="74.3" r="7.8"/><circle class="kO" cx="884.8" cy="296.2" r="7.8"/><circle class="kc" cx="906.0" cy="363.6" r="7.8"/><circle class="kc" cx="899.6" cy="404.2" r="7.8"/><circle class="kr" cx="922.3" cy="342.3" r="7.8"/><circle class="kg" cx="948.5" cy="191.2" r="7.8"/><circle class="ky" cx="914.7" cy="309.5" r="7.8"/><circle class="kG" cx="922.9" cy="282.6" r="7.8"/><circle class="kg" cx="988.7" cy="104.5" r="7.8"/><circle class="kG" cx="928.6" cy="224.0" r="7.8"/><circle class="ky" cx="885.4" cy="324.4" r="7.8"/><circle class="ky" cx="911.1" cy="286.2" r="7.8"/><circle class="kG" cx="912.8" cy="310.7" r="7.8"/><circle class="kG" cx="895.8" cy="361.0" r="7.8"/><circle class="ky" cx="926.6" cy="332.3" r="7.8"/><circle class="kt" cx="907.5" cy="353.7" r="7.8"/><circle class="ky" cx="887.5" cy="259.2" r="7.8"/><circle class="kb" cx="940.4" cy="154.0" r="7.8"/><circle class="kc" cx="946.9" cy="131.0" r="7.8"/><circle class="kc" cx="944.4" cy="142.3" r="7.8"/><circle class="kG" cx="910.1" cy="306.6" r="7.8"/><circle class="kG" cx="939.5" cy="154.6" r="7.8"/><circle class="ky" cx="924.8" cy="308.4" r="7.8"/><circle class="kc" cx="934.5" cy="193.1" r="7.8"/><circle class="kG" cx="949.4" cy="187.1" r="7.8"/><circle class="ky" cx="932.7" cy="218.0" r="7.8"/><circle class="kl" cx="914.2" cy="277.0" r="7.8"/><circle class="kt" cx="931.1" cy="211.7" r="7.8"/><circle class="kO" cx="928.0" cy="239.0" r="7.8"/><circle class="kc" cx="935.6" cy="169.2" r="7.8"/><circle class="kG" cx="953.2" cy="128.7" r="7.8"/><circle class="kb" cx="932.8" cy="197.0" r="7.8"/><circle class="kt" cx="896.4" cy="410.3" r="7.8"/><circle class="ky" cx="917.5" cy="327.3" r="7.8"/><circle class="kG" cx="926.6" cy="265.1" r="7.8"/><circle class="ko" cx="910.4" cy="398.3" r="7.8"/><circle class="kr" cx="928.0" cy="258.1" r="7.8"/><circle class="kG" cx="943.4" cy="104.8" r="7.8"/><circle class="kg" cx="902.5" cy="391.0" r="7.8"/><circle class="ky" cx="926.2" cy="295.4" r="7.8"/><circle class="kO" cx="955.6" cy="83.4" r="7.8"/><circle class="kG" cx="948.4" cy="123.2" r="7.8"/><circle class="ky" cx="895.3" cy="252.1" r="7.8"/><circle class="kO" cx="981.5" cy="131.1" r="7.8"/><circle class="kg" cx="948.1" cy="179.2" r="7.8"/><circle class="kg" cx="985.5" cy="136.6" r="7.8"/><circle class="kg" cx="935.7" cy="152.0" r="7.8"/><circle class="kb" cx="933.6" cy="160.0" r="7.8"/><circle class="kG" cx="885.6" cy="380.9" r="7.8"/><circle class="kt" cx="931.7" cy="217.4" r="7.8"/><circle class="kg" cx="924.9" cy="286.4" r="7.8"/><circle class="kg" cx="953.0" cy="129.5" r="7.8"/><circle class="kc" cx="935.9" cy="104.4" r="7.8"/><circle class="ko" cx="927.0" cy="319.1" r="7.8"/><circle class="kG" cx="893.1" cy="281.0" r="7.8"/><circle class="ky" cx="932.3" cy="218.2" r="7.8"/><circle class="kg" cx="963.1" cy="92.7" r="7.8"/><circle class="kc" cx="936.0" cy="95.3" r="7.8"/><circle class="kt" cx="931.8" cy="202.4" r="7.8"/><circle class="ky" cx="914.6" cy="266.4" r="7.8"/><circle class="kG" cx="940.3" cy="183.7" r="7.8"/><circle class="kG" cx="890.7" cy="382.1" r="7.8"/><circle class="ko" cx="903.5" cy="400.1" r="7.8"/><circle class="kG" cx="897.1" cy="348.5" r="7.8"/><circle class="ky" cx="920.5" cy="280.5" r="7.8"/><circle class="kO" cx="934.8" cy="83.2" r="7.8"/><circle class="kO" cx="936.6" cy="74.8" r="7.8"/><circle class="kc" cx="1036.1" cy="167.7" r="7.8"/><circle class="kb" cx="1014.5" cy="161.1" r="7.8"/><circle class="kb" cx="985.1" cy="150.3" r="7.8"/><circle class="ky" cx="999.5" cy="153.3" r="7.8"/><circle class="kb" cx="1008.3" cy="147.6" r="7.8"/><circle class="kc" cx="975.5" cy="141.3" r="7.8"/><circle class="kG" cx="960.0" cy="138.9" r="7.8"/><circle class="kg" cx="952.8" cy="158.1" r="7.8"/><circle class="kc" cx="934.2" cy="157.5" r="7.8"/><circle class="kO" cx="932.4" cy="143.1" r="7.8"/><circle class="ky" cx="944.4" cy="144.9" r="7.8"/><circle class="kG" cx="937.2" cy="129.3" r="7.8"/><circle class="kG" cx="962.4" cy="130.5" r="7.8"/><circle class="kG" cx="971.9" cy="128.1" r="7.8"/><circle class="kG" cx="987.5" cy="129.9" r="7.8"/><circle class="ky" cx="1005.5" cy="137.1" r="7.8"/><circle class="ky" cx="1022.3" cy="136.5" r="7.8"/><circle class="kc" cx="1038.8" cy="136.9" r="7.8"/><circle class="kc" cx="1008.5" cy="119.7" r="7.8"/><circle class="kt" cx="1005.5" cy="119.7" r="7.8"/><circle class="kG" cx="995.9" cy="123.9" r="7.8"/><circle class="kc" cx="937.8" cy="119.7" r="7.8"/><circle class="kG" cx="948.3" cy="123.9" r="7.8"/><circle class="kg" cx="971.9" cy="116.2" r="7.8"/><circle class="kg" cx="935.4" cy="111.4" r="7.8"/><circle class="kG" cx="954.6" cy="111.0" r="7.8"/><circle class="ky" cx="974.3" cy="106.6" r="7.8"/><circle class="ky" cx="959.4" cy="107.2" r="7.8"/><circle class="kg" cx="983.6" cy="108.6" r="7.8"/><circle class="kG" cx="932.4" cy="103.0" r="7.8"/><circle class="kt" cx="998.3" cy="107.2" r="7.8"/><circle class="kt" cx="994.1" cy="101.2" r="7.8"/><circle class="kt" cx="979.1" cy="98.8" r="7.8"/><circle class="kg" cx="937.2" cy="95.8" r="7.8"/><circle class="ky" cx="949.8" cy="98.4" r="7.8"/><circle class="kt" cx="968.3" cy="89.2" r="7.8"/><circle class="kG" cx="962.4" cy="86.2" r="7.8"/><circle class="kG" cx="965.3" cy="82.0" r="7.8"/><circle class="kG" cx="954.6" cy="88.6" r="7.8"/><circle class="kG" cx="945.6" cy="88.6" r="7.8"/><circle class="ky" cx="954.6" cy="74.8" r="7.8"/><circle class="kg" cx="944.1" cy="75.0" r="7.8"/><circle class="kt" cx="1033.1" cy="96.1" r="7.8"/><circle class="kt" cx="1034.3" cy="123.6" r="7.8"/><circle class="kl" cx="959.1" cy="160.4" r="7.8"/><circle class="kc" cx="975.9" cy="142.4" r="7.8"/><circle class="kb" cx="984.9" cy="150.2" r="7.8"/><circle class="kb" cx="973.5" cy="159.2" r="7.8"/><circle class="ky" cx="1000.5" cy="153.2" r="7.8"/><circle class="kb" cx="1008.3" cy="147.2" r="7.8"/><circle class="kb" cx="1014.1" cy="161.6" r="7.8"/><circle class="kc" cx="1035.6" cy="168.5" r="7.8"/><circle class="kg" cx="951.9" cy="156.8" r="7.8"/><circle class="kg" cx="959.1" cy="150.8" r="7.8"/><circle class="kb" cx="977.7" cy="186.8" r="7.8"/><circle class="kG" cx="977.1" cy="182.6" r="7.8"/><circle class="kb" cx="999.5" cy="175.6" r="7.8"/><circle class="kg" cx="991.5" cy="165.8" r="7.8"/><circle class="kt" cx="988.5" cy="166.5" r="7.8"/><circle class="kg" cx="985.5" cy="167.3" r="7.8"/><circle class="kg" cx="982.5" cy="168.1" r="7.8"/><circle class="kt" cx="979.5" cy="168.9" r="7.8"/><circle class="kg" cx="976.5" cy="169.6" r="7.8"/><circle class="kg" cx="973.5" cy="170.5" r="7.8"/><circle class="kG" cx="970.5" cy="171.2" r="7.8"/><circle class="kg" cx="967.5" cy="172.0" r="7.8"/><circle class="kc" cx="956.7" cy="202.4" r="7.8"/><circle class="kc" cx="950.7" cy="207.1" r="7.8"/><circle class="kc" cx="944.7" cy="210.7" r="7.8"/><circle class="kg" cx="950.7" cy="173.6" r="7.8"/><circle class="ky" cx="943.5" cy="183.8" r="7.8"/><circle class="ky" cx="951.3" cy="194.0" r="7.8"/><circle class="kO" cx="931.6" cy="143.6" r="7.8"/><circle class="ky" cx="944.1" cy="144.8" r="7.8"/><circle class="kc" cx="934.0" cy="157.4" r="7.8"/><circle class="kt" cx="931.6" cy="166.4" r="7.8"/><circle class="kc" cx="931.6" cy="174.8" r="7.8"/><circle class="kc" cx="932.8" cy="179.6" r="7.8"/><circle class="kb" cx="932.2" cy="191.0" r="7.8"/><circle class="kO" cx="934.0" cy="205.3" r="7.8"/><circle class="kG" cx="931.3" cy="211.3" r="7.8"/><circle class="kr" cx="895.6" cy="246.7" r="7.8"/><circle class="kr" cx="912.4" cy="244.3" r="7.8"/><circle class="kr" cx="904.0" cy="239.5" r="7.8"/><circle class="kb" cx="901.8" cy="229.7" r="7.8"/><circle class="ky" cx="928.0" cy="225.7" r="7.8"/><circle class="ky" cx="928.0" cy="241.3" r="7.8"/><circle class="kr" cx="906.3" cy="237.8" r="7.8"/><circle class="kr" cx="896.7" cy="247.4" r="7.8"/><circle class="kr" cx="913.5" cy="245.0" r="7.8"/><circle class="kr" cx="881.1" cy="271.4" r="7.8"/><circle class="kr" cx="826.0" cy="307.9" r="7.8"/><circle class="ko" cx="914.7" cy="264.8" r="7.8"/><circle class="kO" cx="883.5" cy="288.1" r="7.8"/><circle class="kO" cx="901.5" cy="300.1" r="7.8"/><circle class="kc" cx="890.7" cy="294.1" r="7.8"/><circle class="kl" cx="887.1" cy="304.3" r="7.8"/><circle class="kg" cx="909.9" cy="231.8" r="7.8"/><circle class="kG" cx="917.1" cy="234.2" r="7.8"/><circle class="kG" cx="911.1" cy="251.0" r="7.8"/><circle class="kt" cx="921.9" cy="251.0" r="7.8"/><circle class="kg" cx="924.3" cy="263.0" r="7.8"/><circle class="ky" cx="909.9" cy="272.6" r="7.8"/><circle class="kG" cx="905.1" cy="282.1" r="7.8"/><circle class="kt" cx="927.9" cy="294.1" r="7.8"/><circle class="kt" cx="833.4" cy="305.2" r="7.8"/><circle class="kg" cx="846.4" cy="306.7" r="7.8"/><circle class="kt" cx="852.4" cy="317.5" r="7.8"/><circle class="kr" cx="856.5" cy="310.9" r="7.8"/><circle class="kG" cx="867.3" cy="322.9" r="7.8"/><circle class="kg" cx="832.0" cy="326.5" r="7.8"/><circle class="kr" cx="809.2" cy="314.5" r="7.8"/><circle class="kt" cx="807.4" cy="310.9" r="7.8"/><circle class="ky" cx="891.9" cy="315.1" r="7.8"/><circle class="ky" cx="900.3" cy="311.5" r="7.8"/><circle class="ky" cx="907.5" cy="307.3" r="7.8"/><circle class="kb" cx="925.5" cy="313.3" r="7.8"/><circle class="kb" cx="925.5" cy="307.3" r="7.8"/><circle class="kb" cx="925.5" cy="301.3" r="7.8"/><circle class="kG" cx="918.1" cy="301.1" r="7.8"/><circle class="kt" cx="864.1" cy="282.1" r="7.8"/><circle class="kt" cx="872.7" cy="275.0" r="7.8"/><circle class="kt" cx="876.3" cy="277.4" r="7.8"/><circle class="kg" cx="858.1" cy="292.3" r="7.8"/><circle class="kg" cx="872.7" cy="290.5" r="7.8"/><circle class="kG" cx="875.5" cy="296.5" r="7.8"/><circle class="ky" cx="917.1" cy="279.7" r="7.8"/><circle class="ky" cx="924.3" cy="274.4" r="7.8"/><circle class="kG" cx="902.1" cy="291.1" r="7.8"/><circle class="kG" cx="923.7" cy="286.3" r="7.8"/><circle class="ky" cx="878.1" cy="256.4" r="7.8"/><circle class="ky" cx="882.9" cy="256.4" r="7.8"/><circle class="ky" cx="893.1" cy="255.2" r="7.8"/><circle class="ky" cx="896.1" cy="254.6" r="7.8"/><circle class="ky" cx="903.3" cy="254.0" r="7.8"/><circle class="ky" cx="896.1" cy="266.6" r="7.8"/><circle class="ky" cx="919.3" cy="258.2" r="7.8"/><circle class="ky" cx="862.5" cy="264.8" r="7.8"/><circle class="kG" cx="864.1" cy="249.4" r="7.8"/><circle class="ky" cx="832.0" cy="255.2" r="7.8"/><circle class="ky" cx="802.9" cy="264.8" r="7.8"/><circle class="kb" cx="901.9" cy="229.7" r="7.8"/><circle class="ky" cx="928.2" cy="225.8" r="7.8"/><circle class="ky" cx="928.2" cy="240.8" r="7.8"/><circle class="ky" cx="836.8" cy="330.6" r="7.8"/><circle class="kg" cx="832.0" cy="327.0" r="7.8"/><circle class="kG" cx="848.2" cy="327.6" r="7.8"/><circle class="kt" cx="851.8" cy="318.6" r="7.8"/><circle class="kG" cx="866.7" cy="323.4" r="7.8"/><circle class="kO" cx="823.3" cy="338.4" r="7.8"/><circle class="kG" cx="820.6" cy="349.8" r="7.8"/><circle class="kO" cx="839.2" cy="354.0" r="7.8"/><circle class="kG" cx="844.9" cy="346.8" r="7.8"/><circle class="ko" cx="863.1" cy="360.6" r="7.8"/><circle class="ky" cx="864.3" cy="341.4" r="7.8"/><circle class="kg" cx="873.9" cy="337.2" r="7.8"/><circle class="kG" cx="878.7" cy="348.6" r="7.8"/><circle class="kG" cx="861.3" cy="352.8" r="7.8"/><circle class="ko" cx="884.4" cy="340.2" r="7.8"/><circle class="kr" cx="905.1" cy="324.6" r="7.8"/><circle class="ky" cx="909.9" cy="337.2" r="7.8"/><circle class="ky" cx="921.9" cy="337.8" r="7.8"/><circle class="kt" cx="923.7" cy="331.8" r="7.8"/><circle class="kg" cx="877.3" cy="363.9" r="7.8"/><circle class="kG" cx="892.5" cy="374.4" r="7.8"/><circle class="ko" cx="896.1" cy="363.6" r="7.8"/><circle class="kc" cx="918.3" cy="382.1" r="7.8"/><circle class="ko" cx="912.9" cy="375.0" r="7.8"/><circle class="kt" cx="919.5" cy="356.4" r="7.8"/><circle class="kb" cx="923.5" cy="369.2" r="7.8"/><circle class="ko" cx="855.9" cy="382.7" r="7.8"/><circle class="ky" cx="867.9" cy="383.3" r="7.8"/><circle class="kG" cx="871.5" cy="384.5" r="7.8"/><circle class="ko" cx="843.4" cy="392.9" r="7.8"/><circle class="kO" cx="857.7" cy="394.1" r="7.8"/><circle class="ky" cx="866.7" cy="394.7" r="7.8"/><circle class="kG" cx="902.7" cy="406.1" r="7.8"/><circle class="ky" cx="909.9" cy="407.3" r="7.8"/><circle class="kt" cx="888.3" cy="391.1" r="7.8"/><circle class="kt" cx="890.1" cy="401.3" r="7.8"/><circle class="kG" cx="908.7" cy="393.5" r="7.8"/><circle class="kO" cx="917.1" cy="395.3" r="7.8"/><circle class="kg" cx="919.5" cy="398.3" r="7.8"/><circle class="kG" cx="826.3" cy="407.1" r="7.8"/><circle class="kg" cx="847.6" cy="412.7" r="7.8"/><circle class="kt" cx="838.0" cy="415.1" r="7.8"/><circle class="kg" cx="857.1" cy="409.1" r="7.8"/><circle class="kt" cx="864.1" cy="415.5" r="7.8"/><circle class="kg" cx="880.5" cy="412.7" r="7.8"/><circle class="kt" cx="885.9" cy="413.3" r="7.8"/><circle class="kO" cx="685.0" cy="350.0" r="7.8"/><circle class="kg" cx="746.0" cy="329.0" r="7.8"/><circle class="kg" cx="769.0" cy="328.6" r="7.8"/><circle class="ky" cx="782.6" cy="334.6" r="7.8"/><circle class="kO" cx="779.4" cy="358.0" r="7.8"/><circle class="kO" cx="791.4" cy="356.6" r="7.8"/><circle class="kO" cx="755.0" cy="382.0" r="7.8"/><circle class="kO" cx="775.4" cy="396.0" r="7.8"/><circle class="kt" cx="1094.0" cy="115.5" r="7.8"/><circle class="kt" cx="1089.6" cy="125.2" r="7.8"/></g>
<g id="legend"><rect x="1249" y="0.2" width="22" height="20.6" fill="#1f6fb4"/><text class="lg" x="1276.8" y="14.4">150.058 - 284.451</text><rect x="1249" y="25.3" width="22" height="20.6" fill="#20aab6"/><text class="lg" x="1276.8" y="39.5">284.451 - 418.844</text><rect x="1249" y="50.4" width="22" height="20.6" fill="#20b98e"/><text class="lg" x="1276.8" y="64.6">418.844 - 553.238</text><rect x="1249" y="75.5" width="22" height="20.6" fill="#1fc055"/><text class="lg" x="1276.8" y="89.7">553.238 - 687.631</text><rect x="1249" y="100.6" width="22" height="20.6" fill="#2cc41f"/><text class="lg" x="1276.8" y="114.8">687.631 - 822.024</text><rect x="1249" y="125.7" width="22" height="20.6" fill="#6cc81f"/><text class="lg" x="1276.8" y="139.9">822.024 - 956.417</text><rect x="1249" y="150.8" width="22" height="20.6" fill="#b2cd1e"/><text class="lg" x="1276.8" y="165.0">956.417 - 1090.81</text><rect x="1249" y="175.9" width="22" height="20.6" fill="#d4aa1e"/><text class="lg" x="1276.8" y="190.1">1090.81 - 1225.2</text><rect x="1249" y="201.0" width="22" height="20.6" fill="#d86c1c"/><text class="lg" x="1276.8" y="215.2">1225.2 - 1359.6</text><rect x="1249" y="226.1" width="22" height="20.6" fill="#dc261c"/><text class="lg" x="1276.8" y="240.3">1359.6 - 1493.99</text></g>
<g id="botplot"><clipPath id="cp2"><rect x="560" y="485" width="715.4" height="441"/></clipPath><g clip-path="url(#cp2)"><path class="gr2" d="M648.4 495V865.3M722.8 495V865.3M797.2 495V865.3M871.6 495V865.3M946.0 495V865.3M1020.4 495V865.3M1094.8 495V865.3M1169.2 495V865.3M1243.6 495V865.3M622.4 531.6H1276M622.4 573.3H1276M622.4 615.0H1276M622.4 656.7H1276M622.4 698.4H1276M622.4 740.1H1276M622.4 781.8H1276M622.4 823.5H1276"/><path class="axl" d="M622.4 510V865.3H1262"/><path fill="#808080" d="M622.4 495l4.6 17h-9.2z"/><path fill="#808080" d="M1275.4 865.3l-17.5 -4.4v8.8z"/><path class="axl" d="M622.4 531.6h-6.2M622.4 552.5h-3.6M622.4 573.3h-6.2M622.4 594.2h-3.6M622.4 615.0h-6.2M622.4 635.9h-3.6M622.4 656.7h-6.2M622.4 677.6h-3.6M622.4 698.4h-6.2M622.4 719.2h-3.6M622.4 740.1h-6.2M622.4 761.0h-3.6M622.4 781.8h-6.2M622.4 802.7h-3.6M622.4 823.5h-6.2M622.4 844.4h-3.6M622.4 865.2h-6.2M648.4 865.3v6.2M685.6 865.3v3.4M722.8 865.3v6.2M760.0 865.3v3.4M797.2 865.3v6.2M834.4 865.3v3.4M871.6 865.3v6.2M908.8 865.3v3.4M946.0 865.3v6.2M983.2 865.3v3.4M1020.4 865.3v6.2M1057.6 865.3v3.4M1094.8 865.3v6.2M1132.0 865.3v3.4M1169.2 865.3v6.2M1206.4 865.3v3.4M1243.6 865.3v6.2"/><text class="tk" transform="translate(611.2 536.8) scale(0.915 1)" text-anchor="end">-0.2</text><text class="tk" transform="translate(611.2 578.5) scale(0.915 1)" text-anchor="end">-0.3</text><text class="tk" transform="translate(611.2 620.2) scale(0.915 1)" text-anchor="end">-0.4</text><text class="tk" transform="translate(611.2 661.9) scale(0.915 1)" text-anchor="end">-0.5</text><text class="tk" transform="translate(611.2 703.6) scale(0.915 1)" text-anchor="end">-0.6</text><text class="tk" transform="translate(611.2 745.3) scale(0.915 1)" text-anchor="end">-0.7</text><text class="tk" transform="translate(611.2 787.0) scale(0.915 1)" text-anchor="end">-0.8</text><text class="tk" transform="translate(611.2 828.7) scale(0.915 1)" text-anchor="end">-0.9</text><text class="tk" transform="translate(611.2 870.4) scale(0.915 1)" text-anchor="end">-1</text><text class="tk" transform="translate(648.1 888.9) scale(0.915 1)" text-anchor="middle">-0.2</text><text class="tk" transform="translate(722.5 888.9) scale(0.915 1)" text-anchor="middle">-0.18</text><text class="tk" transform="translate(796.9 888.9) scale(0.915 1)" text-anchor="middle">-0.16</text><text class="tk" transform="translate(871.3 888.9) scale(0.915 1)" text-anchor="middle">-0.14</text><text class="tk" transform="translate(945.7 888.9) scale(0.915 1)" text-anchor="middle">-0.12</text><text class="tk" transform="translate(1020.1 888.9) scale(0.915 1)" text-anchor="middle">-0.1</text><text class="tk" transform="translate(1094.5 888.9) scale(0.915 1)" text-anchor="middle">-0.08</text><text class="tk" transform="translate(1168.9 888.9) scale(0.915 1)" text-anchor="middle">-0.06</text><text class="tk" transform="translate(1243.3 888.9) scale(0.915 1)" text-anchor="middle">-0.04</text><text class="axc" font-size="13.2" transform="translate(580.9 680) rotate(-90)" text-anchor="middle">p(corr)[1]</text><text class="axc" font-size="13" x="949" y="908.6" text-anchor="middle">p[1]</text><text y="924" style="font-family:'Liberation Mono',monospace;font-size:13.9px" fill="#000" stroke="#000" stroke-width=".25"><tspan x="867.6" font-size="12.5">R</tspan><tspan x="875.7">2</tspan><tspan x="884.3" font-size="12.5">X</tspan><tspan x="892.4">[1] = 0.111</tspan></text><circle class="ky" cx="1093.0" cy="524.6" r="6.95"/><circle class="kG" cx="1189.0" cy="513.4" r="6.95"/><circle class="ky" cx="1234.4" cy="527.0" r="6.95"/><circle class="ky" cx="1246.0" cy="526.0" r="6.95"/><circle class="ky" cx="1281.4" cy="523.0" r="6.95"/><circle class="ky" cx="1185.4" cy="541.6" r="6.95"/><circle class="kr" cx="1217.2" cy="550.4" r="6.95"/><circle class="kr" cx="1237.2" cy="558.0" r="6.95"/><circle class="kt" cx="1207.4" cy="564.0" r="6.95"/><circle class="kt" cx="1223.4" cy="568.0" r="6.95"/><circle class="kt" cx="1191.6" cy="578.0" r="6.95"/><circle class="kO" cx="1220.0" cy="584.0" r="6.95"/><circle class="kl" cx="1228.0" cy="615.0" r="6.95"/><circle class="kG" cx="1192.6" cy="593.0" r="6.95"/><circle class="kg" cx="1171.6" cy="600.0" r="6.95"/><circle class="kg" cx="1217.2" cy="595.0" r="6.95"/><circle class="kG" cx="1222.4" cy="605.0" r="6.95"/><circle class="kG" cx="1225.0" cy="606.0" r="6.95"/><circle class="kO" cx="1241.6" cy="600.0" r="6.95"/><circle class="kO" cx="1248.4" cy="601.2" r="6.95"/><circle class="kc" cx="1272.0" cy="603.6" r="6.95"/><circle class="kG" cx="1241.6" cy="621.0" r="6.95"/><circle class="kr" cx="1248.0" cy="620.0" r="6.95"/><circle class="kl" cx="1258.0" cy="623.6" r="6.95"/><circle class="kl" cx="1261.0" cy="623.6" r="6.95"/><circle class="kG" cx="1185.4" cy="621.2" r="6.95"/><circle class="kG" cx="1222.0" cy="626.0" r="6.95"/><circle class="kG" cx="1223.6" cy="626.0" r="6.95"/><circle class="kt" cx="1096.6" cy="623.6" r="6.95"/><circle class="kr" cx="1074.4" cy="630.0" r="6.95"/><circle class="kg" cx="1134.6" cy="628.4" r="6.95"/><circle class="kr" cx="1164.4" cy="636.0" r="6.95"/><circle class="kt" cx="1150.8" cy="649.6" r="6.95"/><circle class="kt" cx="1226.0" cy="643.4" r="6.95"/><circle class="kg" cx="1250.6" cy="642.0" r="6.95"/><circle class="ky" cx="1272.0" cy="645.0" r="6.95"/><circle class="kG" cx="1275.0" cy="654.0" r="6.95"/><circle class="ky" cx="1239.0" cy="653.0" r="6.95"/><circle class="kg" cx="1089.0" cy="669.0" r="6.95"/><circle class="ky" cx="1103.0" cy="671.4" r="6.95"/><circle class="kG" cx="1138.6" cy="669.4" r="6.95"/><circle class="kO" cx="1065.6" cy="691.4" r="6.95"/><circle class="kG" cx="1057.0" cy="713.4" r="6.95"/><circle class="kO" cx="1112.6" cy="721.0" r="6.95"/><circle class="kG" cx="1131.0" cy="708.6" r="6.95"/><circle class="kG" cx="1181.4" cy="719.6" r="6.95"/><circle class="kO" cx="1183.8" cy="676.4" r="6.95"/><circle class="ky" cx="1194.0" cy="698.6" r="6.95"/><circle class="ko" cx="1190.4" cy="733.4" r="6.95"/><circle class="kg" cx="1231.0" cy="741.0" r="6.95"/><circle class="kO" cx="1254.4" cy="731.0" r="6.95"/><circle class="ko" cx="1270.0" cy="727.0" r="6.95"/><circle class="kO" cx="1255.4" cy="754.4" r="6.95"/><circle class="kO" cx="1265.0" cy="768.0" r="6.95"/><circle class="ky" cx="1270.0" cy="765.0" r="6.95"/><circle class="kg" cx="1274.0" cy="768.0" r="6.95"/><circle class="kG" cx="1273.0" cy="760.0" r="6.95"/><circle class="ko" cx="1165.6" cy="779.4" r="6.95"/><circle class="kl" cx="1202.4" cy="780.4" r="6.95"/><circle class="kG" cx="1212.4" cy="782.6" r="6.95"/><circle class="ko" cx="1126.0" cy="800.0" r="6.95"/><circle class="kO" cx="1172.8" cy="801.4" r="6.95"/><circle class="ky" cx="1191.4" cy="800.0" r="6.95"/><circle class="ky" cx="1199.0" cy="801.4" r="6.95"/><circle class="kG" cx="1255.0" cy="791.6" r="6.95"/><circle class="kO" cx="1262.6" cy="790.0" r="6.95"/><circle class="ko" cx="1273.0" cy="798.4" r="6.95"/><circle class="kt" cx="1264.0" cy="796.4" r="6.95"/><circle class="kg" cx="1255.6" cy="809.0" r="6.95"/><circle class="kt" cx="1270.0" cy="816.0" r="6.95"/><circle class="kG" cx="1071.8" cy="827.4" r="6.95"/><circle class="kg" cx="1165.6" cy="832.4" r="6.95"/><circle class="kg" cx="1137.4" cy="839.6" r="6.95"/><circle class="kg" cx="1241.0" cy="837.4" r="6.95"/><circle class="kt" cx="1254.4" cy="838.4" r="6.95"/><circle class="kt" cx="1110.6" cy="843.4" r="6.95"/><circle class="kt" cx="1187.8" cy="843.4" r="6.95"/><circle class="kt" cx="1191.0" cy="659.0" r="6.95"/><circle class="kg" cx="1200.0" cy="665.4" r="6.95"/><circle class="kG" cx="1197.6" cy="661.4" r="6.95"/><circle class="kt" cx="1226.0" cy="657.6" r="6.95"/><circle class="kr" cx="1275.0" cy="674.0" r="6.95"/><circle class="kG" cx="1274.0" cy="666.0" r="6.95"/><circle class="kg" cx="1259.0" cy="662.0" r="6.95"/><circle class="kG" cx="1251.0" cy="665.0" r="6.95"/><circle class="kG" cx="1251.0" cy="658.0" r="6.95"/><circle class="ky" cx="1239.0" cy="653.0" r="6.95"/><circle class="ky" cx="1264.0" cy="658.0" r="6.95"/><circle class="ky" cx="1247.0" cy="660.0" r="6.95"/><circle class="kG" cx="1227.0" cy="669.0" r="6.95"/><circle class="kg" cx="1233.0" cy="677.0" r="6.95"/><circle class="kg" cx="1217.0" cy="677.0" r="6.95"/><circle class="kO" cx="1226.0" cy="672.4" r="6.95"/><circle class="kc" cx="1249.4" cy="681.4" r="6.95"/><circle class="ky" cx="1227.0" cy="684.4" r="6.95"/><circle class="ky" cx="1243.4" cy="682.6" r="6.95"/><circle class="kg" cx="1222.0" cy="688.6" r="6.95"/><circle class="kG" cx="1208.6" cy="687.4" r="6.95"/><circle class="kO" cx="1237.0" cy="693.4" r="6.95"/><circle class="ko" cx="1252.0" cy="693.6" r="6.95"/><circle class="kG" cx="1270.0" cy="697.0" r="6.95"/><circle class="kg" cx="1271.0" cy="686.4" r="6.95"/><circle class="kO" cx="1276.0" cy="691.0" r="6.95"/><circle class="kG" cx="1224.4" cy="702.6" r="6.95"/><circle class="kG" cx="1238.0" cy="708.6" r="6.95"/><circle class="kG" cx="1232.0" cy="710.0" r="6.95"/><circle class="kO" cx="1276.0" cy="711.0" r="6.95"/><circle class="kO" cx="639.6" cy="715.0" r="6.95"/><circle class="kg" cx="828.0" cy="672.0" r="6.95"/><circle class="kg" cx="897.2" cy="670.0" r="6.95"/><circle class="ky" cx="940.4" cy="682.6" r="6.95"/><circle class="kO" cx="932.8" cy="728.4" r="6.95"/><circle class="kO" cx="964.8" cy="727.2" r="6.95"/><circle class="kO" cx="855.4" cy="776.6" r="6.95"/><circle class="kO" cx="915.6" cy="805.2" r="6.95"/><circle class="ky" cx="1002.0" cy="543.4" r="6.95"/><circle class="kr" cx="1021.6" cy="641.0" r="6.95"/><circle class="kt" cx="1015.0" cy="635.6" r="6.95"/><text class="pl tO" transform="translate(653.0 721.5) scale(0.934 1)" text-anchor="start">1283.59</text><text class="pl tg" transform="translate(814.7 679.4) scale(0.934 1)" text-anchor="end">563.141</text><text class="pl tg" transform="translate(883.9 677.4) scale(0.934 1)" text-anchor="end">563.141</text><text class="pl ty" transform="translate(927.1 690.0) scale(0.934 1)" text-anchor="end">869.236</text><text class="pl ty" transform="translate(988.7 550.8) scale(0.934 1)" text-anchor="end">887.569</text><text class="pl ty" transform="translate(1079.7 532.0) scale(0.934 1)" text-anchor="end">888.573</text><text class="pl tr" transform="translate(1008.3 648.4) scale(0.934 1)" text-anchor="end">1415.63</text><text class="pl tr" transform="translate(1061.1 637.4) scale(0.934 1)" text-anchor="end">1369.63</text><text class="pl tr" transform="translate(1203.9 557.8) scale(0.934 1)" text-anchor="end">1445.65</text><text class="pl tr" transform="translate(1223.9 565.4) scale(0.934 1)" text-anchor="end">1399.64</text><text class="pl tO" transform="translate(1052.3 698.8) scale(0.934 1)" text-anchor="end">1240.6</text><text class="pl tO" transform="translate(1099.3 728.4) scale(0.934 1)" text-anchor="end">1237.59</text><text class="pl tO" transform="translate(919.5 735.8) scale(0.934 1)" text-anchor="end">1267.6</text><text class="pl tO" transform="translate(842.1 784.0) scale(0.934 1)" text-anchor="end">1269.58</text><text class="pl tO" transform="translate(902.3 812.6) scale(0.934 1)" text-anchor="end">1251.6</text><text class="pl tt" transform="translate(1097.3 850.8) scale(0.934 1)" text-anchor="end">457.331</text></g></g>
<g id="active"><path d="M705.4 419V533.2H691.6L718.6 559.4L745.6 533.2H731.8V419z" fill="#ffd966" stroke="#ffc000" stroke-width="1.6" stroke-linejoin="miter"/><rect x="641" y="293.2" width="180.6" height="125.6" rx="21" ry="21" fill="#ffd966" fill-opacity="0.42" stroke="#ffc000" stroke-width="2"/><text transform="translate(717.7 588.5) scale(0.925 1)" text-anchor="middle" font-size="30" font-weight="bold" fill="#c00000">active</text></g>
<g id="inactives"><rect x="1291.4" y="306.8" width="357.8" height="575.8" rx="60" ry="60" fill="#cfe1f2" stroke="#41719c" stroke-width="1.6"/><g class="cb"><line x1="1349.0" y1="507.2" x2="1371.0" y2="494.6"/><line x1="1369.4" y1="495.0" x2="1369.4" y2="478.0"/><line x1="1372.8" y1="494.0" x2="1372.8" y2="478.0"/><line x1="1371.0" y1="494.6" x2="1385.0" y2="502.6"/><line x1="1401.2" y1="502.4" x2="1415.0" y2="494.6"/><line x1="1415.0" y1="494.6" x2="1415.0" y2="469.0"/><line x1="1415.0" y1="469.0" x2="1437.0" y2="456.2"/><line x1="1437.0" y1="456.2" x2="1459.0" y2="468.8"/><line x1="1459.0" y1="468.8" x2="1459.0" y2="494.6"/><line x1="1459.0" y1="494.6" x2="1437.0" y2="507.2"/><line x1="1437.0" y1="507.2" x2="1415.0" y2="494.6"/><line x1="1459.0" y1="468.8" x2="1459.0" y2="443.2"/><line x1="1459.0" y1="468.8" x2="1481.0" y2="456.2"/><line x1="1481.0" y1="456.2" x2="1503.0" y2="468.8"/><line x1="1503.0" y1="468.8" x2="1503.0" y2="494.6"/><line x1="1503.0" y1="494.6" x2="1481.0" y2="507.2"/><line x1="1481.0" y1="507.2" x2="1459.0" y2="494.6"/><line x1="1479.8" y1="461.2" x2="1498.8" y2="472.2"/><line x1="1481.0" y1="456.2" x2="1481.0" y2="430.6"/><line x1="1481.0" y1="430.6" x2="1503.0" y2="418.0"/><line x1="1503.0" y1="418.0" x2="1525.0" y2="430.6"/><line x1="1525.0" y1="430.6" x2="1525.0" y2="456.2"/><line x1="1525.0" y1="456.2" x2="1503.0" y2="468.8"/><line x1="1525.0" y1="430.6" x2="1527.4" y2="405.4"/><line x1="1525.0" y1="456.2" x2="1527.4" y2="481.4"/><line x1="1525.0" y1="430.6" x2="1548.0" y2="423.0"/><line x1="1548.0" y1="423.0" x2="1563.6" y2="443.6"/><line x1="1563.6" y1="443.6" x2="1548.6" y2="463.6"/><line x1="1548.6" y1="463.6" x2="1525.0" y2="456.2"/><line x1="1547.0" y1="464.2" x2="1551.8" y2="479.4"/><line x1="1550.2" y1="463.2" x2="1555.0" y2="478.4"/><line x1="1548.0" y1="423.0" x2="1544.2" y2="407.4"/><line x1="1548.6" y1="393.2" x2="1562.0" y2="385.0"/><line x1="1562.0" y1="385.0" x2="1583.0" y2="400.4"/><line x1="1583.0" y1="400.4" x2="1573.6" y2="423.6"/><line x1="1573.6" y1="423.6" x2="1548.0" y2="423.0"/><line x1="1573.6" y1="423.6" x2="1588.2" y2="445.0"/><line x1="1560.4" y1="385.0" x2="1561.2" y2="368.0"/><line x1="1563.8" y1="385.4" x2="1564.6" y2="368.2"/><line x1="1437.0" y1="507.2" x2="1424.4" y2="529.0"/><line x1="1437.0" y1="507.2" x2="1449.6" y2="529.0"/><text x="1371.2" y="475.1" font-size="17.5" text-anchor="middle">O</text><text x="1393.0" y="512.9" font-size="17.5" text-anchor="middle">O</text><text x="1556.2" y="493.7" font-size="17.5" text-anchor="middle">O</text><text x="1541.6" y="404.9" font-size="17.5" text-anchor="middle">O</text><text x="1563.2" y="365.3" font-size="17.5" text-anchor="middle">O</text><text x="1469.1" y="557.0" font-size="17.5" text-anchor="middle"><tspan font-size="17.50" dy="0.00">Chemical Formula: C</tspan><tspan font-size="13.12" dy="2.98">28</tspan><tspan font-size="17.50" dy="-2.98">H</tspan><tspan font-size="13.12" dy="2.98">40</tspan><tspan font-size="17.50" dy="-2.98">O</tspan><tspan font-size="13.12" dy="2.98">5</tspan></text><text x="1469" y="581.2" font-size="17.5" text-anchor="middle">Exact Mass: 456.2876</text><line x1="1350.4" y1="761.7" x2="1372.4" y2="749.1"/><line x1="1370.8" y1="749.5" x2="1370.8" y2="732.5"/><line x1="1374.2" y1="748.5" x2="1374.2" y2="732.5"/><line x1="1372.4" y1="749.1" x2="1386.4" y2="757.1"/><line x1="1402.6" y1="756.9" x2="1416.4" y2="749.1"/><line x1="1416.4" y1="749.1" x2="1416.4" y2="723.5"/><line x1="1416.4" y1="723.5" x2="1438.4" y2="710.7"/><line x1="1438.4" y1="710.7" x2="1460.4" y2="723.3"/><line x1="1460.4" y1="723.3" x2="1460.4" y2="749.1"/><line x1="1460.4" y1="749.1" x2="1438.4" y2="761.7"/><line x1="1438.4" y1="761.7" x2="1416.4" y2="749.1"/><line x1="1460.4" y1="723.3" x2="1460.4" y2="697.7"/><line x1="1460.4" y1="723.3" x2="1482.4" y2="710.7"/><line x1="1482.4" y1="710.7" x2="1504.4" y2="723.3"/><line x1="1504.4" y1="723.3" x2="1504.4" y2="749.1"/><line x1="1504.4" y1="749.1" x2="1482.4" y2="761.7"/><line x1="1482.4" y1="761.7" x2="1460.4" y2="749.1"/><line x1="1481.2" y1="715.7" x2="1500.2" y2="726.7"/><line x1="1482.4" y1="710.7" x2="1482.4" y2="685.1"/><line x1="1482.4" y1="685.1" x2="1504.4" y2="672.5"/><line x1="1504.4" y1="672.5" x2="1526.4" y2="685.1"/><line x1="1526.4" y1="685.1" x2="1526.4" y2="710.7"/><line x1="1526.4" y1="710.7" x2="1504.4" y2="723.3"/><line x1="1526.4" y1="685.1" x2="1528.8" y2="659.9"/><line x1="1526.4" y1="710.7" x2="1528.8" y2="735.9"/><line x1="1526.4" y1="685.1" x2="1549.4" y2="677.5"/><line x1="1549.4" y1="677.5" x2="1565.0" y2="698.1"/><line x1="1565.0" y1="698.1" x2="1550.0" y2="718.1"/><line x1="1550.0" y1="718.1" x2="1526.4" y2="710.7"/><line x1="1548.4" y1="718.7" x2="1553.2" y2="733.9"/><line x1="1551.6" y1="717.7" x2="1556.4" y2="732.9"/><line x1="1549.4" y1="677.5" x2="1545.6" y2="661.9"/><line x1="1550.0" y1="647.7" x2="1563.4" y2="639.5"/><line x1="1563.4" y1="639.5" x2="1584.4" y2="654.9"/><line x1="1584.4" y1="654.9" x2="1575.0" y2="678.1"/><line x1="1575.0" y1="678.1" x2="1549.4" y2="677.5"/><line x1="1575.0" y1="678.1" x2="1589.6" y2="699.5"/><line x1="1561.8" y1="639.5" x2="1562.6" y2="622.5"/><line x1="1565.2" y1="639.9" x2="1566.0" y2="622.7"/><line x1="1438.4" y1="761.7" x2="1425.8" y2="783.5"/><line x1="1438.4" y1="761.7" x2="1451.0" y2="783.5"/><line x1="1451.0" y1="783.5" x2="1467.2" y2="783.5"/><line x1="1453.2" y1="779.5" x2="1467.2" y2="779.5"/><text x="1372.6" y="729.6" font-size="17.5" text-anchor="middle">O</text><text x="1394.4" y="767.4" font-size="17.5" text-anchor="middle">O</text><text x="1557.6" y="748.2" font-size="17.5" text-anchor="middle">O</text><text x="1543.0" y="659.4" font-size="17.5" text-anchor="middle">O</text><text x="1564.6" y="619.8" font-size="17.5" text-anchor="middle">O</text><text x="1476.2" y="787.4" font-size="17.5" text-anchor="middle">O</text><text x="1470.1" y="817.0" font-size="17.5" text-anchor="middle"><tspan font-size="17.50" dy="0.00">Chemical Formula: C</tspan><tspan font-size="13.12" dy="2.98">28</tspan><tspan font-size="17.50" dy="-2.98">H</tspan><tspan font-size="13.12" dy="2.98">38</tspan><tspan font-size="17.50" dy="-2.98">O</tspan><tspan font-size="13.12" dy="2.98">6</tspan></text><text x="1470" y="839.6" font-size="17.5" text-anchor="middle">Exact Mass: 470.2668</text></g></g>
<g id="inactive"><ellipse cx="1089.6" cy="119.2" rx="38" ry="33" fill="#5b9bd5" fill-opacity="0.3" stroke="#41719c" stroke-width="1.6"/><path d="M1094.6 148.6H1208.8V361.8H1300" fill="none" stroke="#5b9bd5" stroke-width="5.2"/><path d="M1322.6 361.8l-24.6 -12.2v24.4z" fill="#5b9bd5"/><circle cx="1094.6" cy="149" r="12" fill="#5b9bd5" stroke="none"/><text transform="translate(1116.5 67.3) scale(0.915 1)" text-anchor="middle" font-size="30" font-weight="bold" fill="#44546a">inactive</text></g>
<g id="scillanoside"><rect x="1" y="444.2" width="555" height="438.2" rx="73" ry="73" fill="#fff0c1" stroke="#ffc000" stroke-width="1.8"/><g class="cy"><line x1="218.0" y1="504.6" x2="201.0" y2="508.0"/><line x1="201.0" y1="508.0" x2="179.0" y2="502.0"/><line x1="179.0" y1="502.0" x2="190.0" y2="523.0"/><line x1="190.0" y1="523.0" x2="213.6" y2="517.4"/><line x1="213.6" y1="517.4" x2="237.0" y2="523.4"/><line x1="237.0" y1="523.4" x2="230.0" y2="510.6"/><line x1="179.0" y1="502.0" x2="171.0" y2="489.4"/><line x1="201.0" y1="508.0" x2="197.6" y2="494.6"/><line x1="190.0" y1="523.0" x2="175.6" y2="519.0"/><line x1="213.6" y1="517.4" x2="217.6" y2="532.6"/><line x1="237.0" y1="523.4" x2="244.4" y2="618.0"/><line x1="122.0" y1="594.6" x2="105.6" y2="598.0"/><line x1="105.6" y1="598.0" x2="82.4" y2="592.0"/><line x1="82.4" y1="592.0" x2="94.0" y2="613.0"/><line x1="94.0" y1="613.0" x2="117.6" y2="607.0"/><line x1="117.6" y1="607.0" x2="140.6" y2="613.4"/><line x1="140.6" y1="613.4" x2="133.6" y2="601.0"/><line x1="105.6" y1="598.0" x2="86.4" y2="580.0"/><line x1="86.4" y1="580.0" x2="86.4" y2="565.0"/><line x1="82.4" y1="592.0" x2="68.4" y2="599.6"/><line x1="94.0" y1="613.0" x2="78.6" y2="617.4"/><line x1="117.6" y1="607.0" x2="125.6" y2="620.6"/><line x1="140.6" y1="613.4" x2="156.4" y2="611.0"/><line x1="216.6" y1="591.0" x2="200.4" y2="594.4"/><line x1="200.4" y1="594.4" x2="177.0" y2="588.6"/><line x1="177.0" y1="588.6" x2="189.0" y2="609.4"/><line x1="189.0" y1="609.4" x2="212.4" y2="603.4"/><line x1="212.4" y1="603.4" x2="235.6" y2="609.4"/><line x1="235.6" y1="609.4" x2="228.6" y2="596.6"/><line x1="200.4" y1="594.4" x2="180.0" y2="577.6"/><line x1="180.0" y1="577.6" x2="180.0" y2="562.4"/><line x1="177.0" y1="588.6" x2="155.4" y2="601.0"/><line x1="189.0" y1="609.4" x2="172.4" y2="609.4"/><line x1="212.4" y1="603.4" x2="238.0" y2="620.6"/><line x1="235.6" y1="609.4" x2="240.8" y2="608.2"/><line x1="246.4" y1="606.8" x2="251.0" y2="605.6"/><line x1="259.0" y1="612.0" x2="259.0" y2="660.0"/><text x="160.0" y="488.0" font-size="16.7" text-anchor="middle">HO</text><text x="189.0" y="492.0" font-size="16.7" text-anchor="middle">HO</text><text x="160.4" y="524.0" font-size="16.7" text-anchor="middle">HO</text><text x="225.6" y="547.6" font-size="16.7" text-anchor="middle">OH</text><text x="224.6" y="509.0" font-size="16.7" text-anchor="middle">O</text><text x="92.0" y="562.6" font-size="16.7" text-anchor="middle">OH</text><text x="55.0" y="611.0" font-size="16.7" text-anchor="middle">HO</text><text x="64.6" y="626.6" font-size="16.7" text-anchor="middle">HO</text><text x="135.6" y="635.0" font-size="16.7" text-anchor="middle">OH</text><text x="128.6" y="599.0" font-size="16.7" text-anchor="middle">O</text><text x="164.2" y="616.4" font-size="16.7" text-anchor="middle">O</text><text x="185.6" y="560.0" font-size="16.7" text-anchor="middle">OH</text><text x="223.4" y="595.4" font-size="16.7" text-anchor="middle">O</text><text x="259.0" y="610.0" font-size="16.7" text-anchor="middle">O</text><text x="245.0" y="632.0" font-size="16.7" text-anchor="middle">O</text><line x1="247.0" y1="651.4" x2="223.6" y2="643.6"/><line x1="223.6" y1="643.6" x2="235.0" y2="666.4"/><line x1="235.0" y1="666.4" x2="259.0" y2="660.0"/><line x1="259.0" y1="660.0" x2="282.0" y2="666.4"/><line x1="282.0" y1="666.4" x2="274.6" y2="653.6"/><line x1="247.0" y1="651.4" x2="255.4" y2="649.4"/><line x1="223.6" y1="643.6" x2="215.0" y2="659.0"/><line x1="235.0" y1="666.4" x2="235.0" y2="682.4"/><line x1="282.0" y1="666.4" x2="281.6" y2="688.4"/><line x1="281.4" y1="705.6" x2="281.4" y2="720.0"/><line x1="281.4" y1="720.0" x2="298.0" y2="737.6"/><line x1="314.0" y1="734.0" x2="298.0" y2="737.6"/><line x1="298.0" y1="737.6" x2="275.0" y2="731.6"/><line x1="275.0" y1="731.6" x2="286.6" y2="752.4"/><line x1="286.6" y1="752.4" x2="310.6" y2="746.4"/><line x1="310.6" y1="746.4" x2="334.0" y2="752.4"/><line x1="334.0" y1="752.4" x2="326.6" y2="740.0"/><line x1="275.0" y1="731.6" x2="260.6" y2="735.6"/><line x1="286.6" y1="752.4" x2="272.6" y2="756.6"/><line x1="310.6" y1="746.4" x2="318.6" y2="760.0"/><line x1="334.0" y1="752.4" x2="350.0" y2="761.4"/><line x1="365.6" y1="761.0" x2="379.4" y2="753.0"/><text x="205.0" y="673.4" font-size="16.7" text-anchor="middle">HO</text><text x="241.4" y="697.6" font-size="16.7" text-anchor="middle">OH</text><text x="270.0" y="652.4" font-size="16.7" text-anchor="middle">O</text><text x="281.4" y="703.0" font-size="16.7" text-anchor="middle">O</text><text x="245.8" y="744.4" font-size="16.7" text-anchor="middle">HO</text><text x="257.8" y="765.6" font-size="16.7" text-anchor="middle">HO</text><text x="329.0" y="774.4" font-size="16.7" text-anchor="middle">OH</text><text x="322.0" y="738.4" font-size="16.7" text-anchor="middle">O</text><text x="358.0" y="771.6" font-size="16.7" text-anchor="middle">O</text><line x1="379.4" y1="753.4" x2="379.4" y2="729.0"/><line x1="379.4" y1="729.0" x2="400.4" y2="716.6"/><line x1="400.4" y1="716.6" x2="421.0" y2="728.6"/><line x1="421.0" y1="728.6" x2="421.0" y2="753.4"/><line x1="421.0" y1="753.4" x2="400.4" y2="765.6"/><line x1="400.4" y1="765.6" x2="379.4" y2="753.4"/><line x1="421.0" y1="728.6" x2="421.0" y2="704.4"/><line x1="421.0" y1="728.6" x2="442.0" y2="716.6"/><line x1="442.0" y1="716.6" x2="463.4" y2="728.6"/><line x1="463.4" y1="728.6" x2="463.4" y2="753.0"/><line x1="463.4" y1="753.0" x2="442.0" y2="765.4"/><line x1="442.0" y1="765.4" x2="421.0" y2="753.4"/><line x1="440.8" y1="721.4" x2="459.4" y2="732.0"/><line x1="442.0" y1="716.6" x2="442.0" y2="692.6"/><line x1="442.0" y1="692.6" x2="463.0" y2="680.4"/><line x1="463.0" y1="680.4" x2="484.0" y2="692.6"/><line x1="484.0" y1="692.6" x2="484.0" y2="716.6"/><line x1="484.0" y1="716.6" x2="463.4" y2="728.6"/><line x1="484.0" y1="692.6" x2="486.6" y2="668.0"/><line x1="484.0" y1="716.6" x2="486.6" y2="740.6"/><line x1="484.0" y1="692.6" x2="506.6" y2="685.0"/><line x1="506.6" y1="685.0" x2="521.4" y2="704.6"/><line x1="521.4" y1="704.6" x2="507.0" y2="724.0"/><line x1="507.0" y1="724.0" x2="484.0" y2="716.6"/><line x1="506.6" y1="685.0" x2="502.8" y2="670.6"/><line x1="507.0" y1="656.4" x2="520.6" y2="648.4"/><line x1="520.6" y1="648.4" x2="539.4" y2="662.6"/><line x1="539.4" y1="662.6" x2="531.4" y2="685.4"/><line x1="531.4" y1="685.4" x2="506.6" y2="685.0"/><line x1="531.4" y1="685.4" x2="544.6" y2="706.0"/><line x1="520.6" y1="648.4" x2="520.6" y2="624.4"/><line x1="400.4" y1="765.6" x2="388.0" y2="786.0"/><line x1="388.0" y1="786.0" x2="372.0" y2="786.0"/><line x1="400.4" y1="765.6" x2="412.6" y2="786.0"/><line x1="412.6" y1="786.0" x2="428.0" y2="786.0"/><text x="500.0" y="668.4" font-size="16.7" text-anchor="middle">O</text><text x="358.0" y="793.0" font-size="16.7" text-anchor="middle">HO</text><text x="442.4" y="793.0" font-size="16.7" text-anchor="middle">OH</text><line x1="520.6" y1="624.4" x2="500.0" y2="612.4"/><line x1="500.0" y1="612.4" x2="500.0" y2="587.4"/><line x1="519.6" y1="622.4" x2="533.2" y2="614.6"/><line x1="521.6" y1="625.8" x2="535.2" y2="618.0"/><text x="542.0" y="618.4" font-size="16.7" text-anchor="middle">O</text><text x="409" y="596.4" font-size="16.7">HCOO<tspan font-size="12.5" dy="-10.6">&#8722;</tspan></text><text x="295.5" y="825.0" font-size="16.9" text-anchor="middle"><tspan font-size="16.90" dy="0.00">Chemical Formula: C</tspan><tspan font-size="12.67" dy="2.87">59</tspan><tspan font-size="16.90" dy="-2.87">H</tspan><tspan font-size="12.67" dy="2.87">95</tspan><tspan font-size="16.90" dy="-2.87">O</tspan><tspan font-size="12.67" dy="2.87">30</tspan><tspan font-size="12.67" dy="-8.96">-</tspan></text><text x="295.2" y="848.7" font-size="16.85" text-anchor="middle">Exact Mass: 1283.5914</text></g><text x="274" y="494.8" font-size="18.86" fill="#000">scillanoside L-1</text></g>
</svg></body></html>
